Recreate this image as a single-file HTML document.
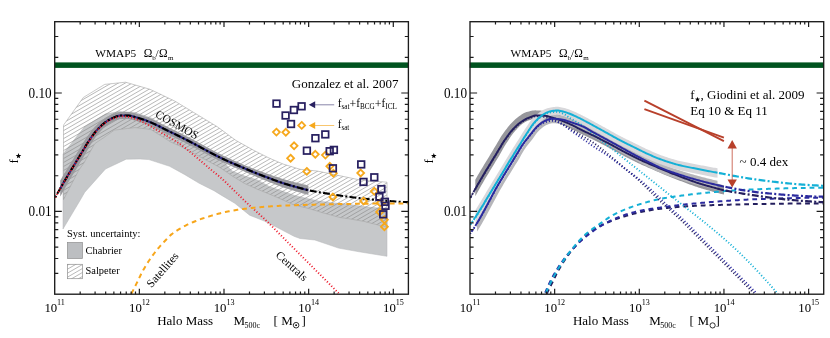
<!DOCTYPE html>
<html><head><meta charset="utf-8"><title>f_star vs halo mass</title>
<style>html,body{margin:0;padding:0;background:#fff;}body{width:830px;height:338px;overflow:hidden;font-family:"Liberation Serif",serif;}svg{will-change:transform;}svg text{font-family:"Liberation Serif",serif;fill:#000;}</style>
</head><body>
<svg width="830" height="338" viewBox="0 0 830 338" style="display:block;font-family:'Liberation Serif', serif">
<defs>
<clipPath id="clipL"><rect x="54.7" y="21.7" width="353.7" height="272.5"/></clipPath>
<clipPath id="clipR"><rect x="470" y="21.7" width="353.7" height="272.5"/></clipPath>
</defs>
<rect width="830" height="338" fill="#fff"/>
<g clip-path="url(#clipL)">
<path d="M63 154 L71.1 143.7 L84.2 127.1 L105.3 114 L119.4 111.5 L135 112.5 L151.4 118.1 L165.9 127.5 L190 140 L210 151.5 L225 163.5 L232.4 171.2 L244.8 176.1 L257.3 179.9 L269.7 186.7 L282.1 191.1 L294.5 195.4 L307 198.5 L319.6 201.2 L334.4 202.9 L349.2 204.4 L364 206.6 L378.8 208.1 L387 208.9 L387 256.3 L359.2 251.8 L338.5 248.1 L314.8 240 L300 238.5 L294 236.3 L279.2 228.5 L264.4 221.1 L249.6 215.2 L234.8 203.3 L220 194.4 L214 190.7 L199.2 183.3 L184.4 174.4 L169.6 166.3 L148.9 159.6 L140 159 L126.2 159.2 L105.5 169 L84.8 192.2 L80.3 200 L63 229 Z" fill="#c6c8ca" stroke="#b4b6b8" stroke-width="0.5"/>
<clipPath id="salp"><path d="M63.5 125.5 L64 124.4 L83.3 97.5 L104.7 84.4 L125.5 82.2 L150 89.3 L174.8 101.1 L199.7 116.1 L217.1 126.6 L236 140.5 L254 150.5 L269 158 L283 164 L300 169.3 L317 171 L343.6 176.5 L360 180 L387 182.2 L387 226.6 L381.7 225.9 L364 221.4 L349.2 218.8 L340 217.5 L323.6 213 L308.8 208.5 L294 205 L282 199.5 L269.7 194.2 L257.3 189.2 L244.8 183.6 L232.4 176.1 L220 167.5 L199.6 156.6 L180.8 146.5 L170.7 142 L151 129.6 L144.2 128.6 L135 127.6 L127.3 128.5 L114.4 130.1 L103.2 138 L94.7 143.7 L83.9 163 L78.9 170 L63.5 199.6 Z"/></clipPath>
<path d="M-166.01 203.4 L463.29 -159.92 M-164.28 206.39 L465.01 -156.93 M-162.56 209.38 L466.74 -153.94 M-160.83 212.37 L468.46 -150.96 M-159.11 215.36 L470.19 -147.97 M-157.38 218.34 L471.91 -144.98 M-155.66 221.33 L473.64 -141.99 M-153.93 224.32 L475.36 -139 M-152.21 227.31 L477.09 -136.02 M-150.48 230.29 L478.81 -133.03 M-148.76 233.28 L480.54 -130.04 M-147.03 236.27 L482.26 -127.05 M-145.31 239.26 L483.99 -124.07 M-143.58 242.25 L485.71 -121.08 M-141.86 245.23 L487.44 -118.09 M-140.13 248.22 L489.16 -115.1 M-138.41 251.21 L490.89 -112.11 M-136.68 254.2 L492.61 -109.13 M-134.96 257.18 L494.34 -106.14 M-133.23 260.17 L496.06 -103.15 M-131.51 263.16 L497.79 -100.16 M-129.78 266.15 L499.51 -97.18 M-128.06 269.14 L501.24 -94.19 M-126.33 272.12 L502.96 -91.2 M-124.61 275.11 L504.69 -88.21 M-122.88 278.1 L506.41 -85.22 M-121.16 281.09 L508.14 -82.24 M-119.43 284.07 L509.86 -79.25 M-117.71 287.06 L511.59 -76.26 M-115.98 290.05 L513.31 -73.27 M-114.26 293.04 L515.04 -70.29 M-112.53 296.03 L516.76 -67.3 M-110.81 299.01 L518.49 -64.31 M-109.08 302 L520.21 -61.32 M-107.36 304.99 L521.94 -58.33 M-105.63 307.98 L523.66 -55.35 M-103.91 310.96 L525.39 -52.36 M-102.18 313.95 L527.11 -49.37 M-100.46 316.94 L528.84 -46.38 M-98.73 319.93 L530.56 -43.4 M-97.01 322.92 L532.29 -40.41 M-95.28 325.9 L534.01 -37.42 M-93.56 328.89 L535.74 -34.43 M-91.83 331.88 L537.46 -31.44 M-90.11 334.87 L539.19 -28.46 M-88.38 337.85 L540.91 -25.47 M-86.66 340.84 L542.64 -22.48 M-84.93 343.83 L544.36 -19.49 M-83.21 346.82 L546.09 -16.51 M-81.48 349.81 L547.81 -13.52 M-79.76 352.79 L549.54 -10.53 M-78.03 355.78 L551.26 -7.54 M-76.31 358.77 L552.99 -4.55 M-74.58 361.76 L554.71 -1.57 M-72.86 364.74 L556.44 1.42 M-71.13 367.73 L558.16 4.41 M-69.41 370.72 L559.89 7.4 M-67.68 373.71 L561.61 10.38 M-65.96 376.7 L563.34 13.37 M-64.23 379.68 L565.06 16.36 M-62.51 382.67 L566.79 19.35 M-60.78 385.66 L568.51 22.34 M-59.06 388.65 L570.24 25.32 M-57.33 391.63 L571.96 28.31 M-55.61 394.62 L573.69 31.3 M-53.88 397.61 L575.41 34.29 M-52.16 400.6 L577.14 37.27 M-50.43 403.59 L578.86 40.26 M-48.71 406.57 L580.59 43.25 M-46.98 409.56 L582.31 46.24 M-45.26 412.55 L584.04 49.23 M-43.53 415.54 L585.76 52.21 M-41.81 418.52 L587.49 55.2 M-40.08 421.51 L589.21 58.19 M-38.36 424.5 L590.94 61.18 M-36.63 427.49 L592.66 64.16 M-34.91 430.48 L594.39 67.15 M-33.18 433.46 L596.11 70.14 M-31.46 436.45 L597.84 73.13 M-29.73 439.44 L599.56 76.12 M-28.01 442.43 L601.29 79.1 M-26.28 445.41 L603.01 82.09 M-24.56 448.4 L604.74 85.08 M-22.83 451.39 L606.46 88.07 M-21.11 454.38 L608.19 91.05 M-19.38 457.37 L609.91 94.04 M-17.66 460.35 L611.64 97.03 M-15.93 463.34 L613.36 100.02 M-14.21 466.33 L615.09 103.01 M-12.48 469.32 L616.81 105.99" clip-path="url(#salp)" stroke="#888" stroke-width="0.6" fill="none"/>
<path d="M63.5 125.5 L64 124.4 L83.3 97.5 L104.7 84.4 L125.5 82.2 L150 89.3 L174.8 101.1 L199.7 116.1 L217.1 126.6 L236 140.5 L254 150.5 L269 158 L283 164 L300 169.3 L317 171 L343.6 176.5 L360 180 L387 182.2 L387 226.6 L381.7 225.9 L364 221.4 L349.2 218.8 L340 217.5 L323.6 213 L308.8 208.5 L294 205 L282 199.5 L269.7 194.2 L257.3 189.2 L244.8 183.6 L232.4 176.1 L220 167.5 L199.6 156.6 L180.8 146.5 L170.7 142 L151 129.6 L144.2 128.6 L135 127.6 L127.3 128.5 L114.4 130.1 L103.2 138 L94.7 143.7 L83.9 163 L78.9 170 L63.5 199.6 Z" fill="none" stroke="#a6a6a6" stroke-width="0.6"/>
<path d="M60.2 180.52 L61.59 178.13 L62.97 175.78 L64.36 173.44 L65.75 171.13 L67.13 168.85 L68.52 166.6 L69.91 164.38 L71.29 162.16 L72.68 159.93 L74.07 157.68 L75.45 155.4 L76.84 153.12 L78.23 150.85 L79.61 148.58 L81 146.35 L82.39 144.07 L83.77 141.73 L85.16 139.47 L86.55 137.36 L87.93 135.44 L89.32 133.65 L90.71 131.85 L92.09 130.07 L93.48 128.4 L94.86 126.87 L96.25 125.45 L97.64 124.12 L99.02 122.82 L100.41 121.57 L101.8 120.42 L103.18 119.38 L104.57 118.44 L105.96 117.58 L107.34 116.73 L108.73 115.93 L110.12 115.22 L111.5 114.59 L112.89 114.06 L114.28 113.57 L115.66 113.04 L117.05 112.58 L118.44 112.24 L119.82 112.05 L121.21 112 L122.6 112.01 L123.98 112.02 L125.37 112.04 L126.76 112.07 L128.14 112.1 L129.53 112.17 L130.92 112.35 L132.3 112.63 L133.69 112.99 L135.08 113.4 L136.46 113.84 L137.85 114.24 L139.24 114.63 L140.62 115.05 L142.01 115.48 L143.4 115.94 L144.78 116.41 L146.17 116.9 L147.56 117.41 L148.94 117.94 L150.33 118.5 L151.72 119.08 L153.1 119.68 L154.49 120.3 L155.87 120.94 L157.26 121.57 L158.65 122.23 L160.03 122.92 L161.42 123.65 L162.81 124.38 L164.19 125.13 L165.58 125.86 L166.97 126.57 L168.35 127.27 L169.74 127.95 L171.13 128.62 L172.51 129.29 L173.9 129.95 L175.29 130.62 L176.67 131.28 L178.06 131.95 L179.45 132.63 L180.83 133.32 L182.22 134.02 L183.61 134.72 L184.99 135.43 L186.38 136.14 L187.77 136.86 L189.15 137.58 L190.54 138.3 L191.93 139.03 L193.31 139.76 L194.7 140.49 L196.09 141.22 L197.47 141.97 L198.86 142.72 L200.25 143.48 L201.63 144.25 L203.02 145.02 L204.41 145.79 L205.79 146.56 L207.18 147.32 L208.57 148.07 L209.95 148.81 L211.34 149.54 L212.73 150.27 L214.11 150.99 L215.5 151.72 L216.88 152.43 L218.27 153.14 L219.66 153.84 L221.04 154.54 L222.43 155.23 L223.82 155.9 L225.2 156.57 L226.59 157.22 L227.98 157.86 L229.36 158.49 L230.75 159.1 L232.14 159.72 L233.52 160.32 L234.91 160.92 L236.3 161.52 L237.68 162.12 L239.07 162.72 L240.46 163.32 L241.84 163.93 L243.23 164.53 L244.62 165.14 L246 165.71 L247.39 166.26 L248.78 166.81 L250.16 167.36 L251.55 167.91 L252.94 168.45 L254.32 168.98 L255.71 169.5 L257.1 170.02 L258.48 170.54 L259.87 171.04 L261.26 171.55 L262.64 172.05 L264.03 172.54 L265.42 173.03 L266.8 173.52 L268.19 174 L269.58 174.48 L270.96 174.95 L272.35 175.43 L273.74 175.91 L275.12 176.39 L276.51 176.86 L277.89 177.33 L279.28 177.79 L280.67 178.25 L282.05 178.69 L283.44 179.12 L284.83 179.54 L286.21 179.94 L287.6 180.33 L288.99 180.7 L290.37 181.07 L291.76 181.43 L293.15 181.78 L294.53 182.13 L295.92 182.47 L297.31 182.81 L298.69 183.15 L300.08 183.49 L301.47 183.83 L302.85 184.18 L304.24 184.53 L305.63 184.87 L307.01 185.19 L308.4 185.48 L308.4 194.92 L307.01 194.58 L305.63 194.22 L304.24 193.83 L302.85 193.43 L301.47 193.01 L300.08 192.59 L298.69 192.18 L297.31 191.76 L295.92 191.35 L294.53 190.94 L293.15 190.53 L291.76 190.11 L290.37 189.69 L288.99 189.26 L287.6 188.83 L286.21 188.38 L284.83 187.93 L283.44 187.47 L282.05 186.99 L280.67 186.49 L279.28 185.98 L277.89 185.46 L276.51 184.93 L275.12 184.4 L273.74 183.85 L272.35 183.3 L270.96 182.75 L269.58 182.2 L268.19 181.65 L266.8 181.1 L265.42 180.54 L264.03 179.99 L262.64 179.42 L261.26 178.86 L259.87 178.29 L258.48 177.71 L257.1 177.13 L255.71 176.55 L254.32 175.96 L252.94 175.36 L251.55 174.76 L250.16 174.15 L248.78 173.53 L247.39 172.91 L246 172.29 L244.62 171.67 L243.23 171.08 L241.84 170.49 L240.46 169.9 L239.07 169.31 L237.68 168.72 L236.3 168.14 L234.91 167.55 L233.52 166.97 L232.14 166.38 L230.75 165.8 L229.36 165.2 L227.98 164.6 L226.59 164 L225.2 163.38 L223.82 162.75 L222.43 162.11 L221.04 161.46 L219.66 160.8 L218.27 160.13 L216.88 159.45 L215.5 158.76 L214.11 158.06 L212.73 157.36 L211.34 156.66 L209.95 155.95 L208.57 155.24 L207.18 154.53 L205.79 153.8 L204.41 153.06 L203.02 152.31 L201.63 151.56 L200.25 150.81 L198.86 150.05 L197.47 149.3 L196.09 148.55 L194.7 147.81 L193.31 147.09 L191.93 146.37 L190.54 145.65 L189.15 144.93 L187.77 144.22 L186.38 143.51 L184.99 142.8 L183.61 142.1 L182.22 141.4 L180.83 140.71 L179.45 140.02 L178.06 139.33 L176.67 138.66 L175.29 138 L173.9 137.34 L172.51 136.69 L171.13 136.04 L169.74 135.39 L168.35 134.74 L166.97 134.08 L165.58 133.42 L164.19 132.74 L162.81 132.04 L161.42 131.31 L160.03 130.59 L158.65 129.86 L157.26 129.15 L155.87 128.48 L154.49 127.84 L153.1 127.21 L151.72 126.59 L150.33 125.98 L148.94 125.39 L147.56 124.82 L146.17 124.28 L144.78 123.76 L143.4 123.26 L142.01 122.78 L140.62 122.32 L139.24 121.88 L137.85 121.46 L136.46 121.08 L135.08 120.68 L133.69 120.24 L132.3 119.82 L130.92 119.45 L129.53 119.19 L128.14 119.09 L126.76 119.06 L125.37 119.03 L123.98 119.02 L122.6 119.01 L121.21 119 L119.82 119.12 L118.44 119.48 L117.05 119.99 L115.66 120.55 L114.28 121.11 L112.89 121.7 L111.5 122.44 L110.12 123.28 L108.73 124.19 L107.34 125.16 L105.96 126.18 L104.57 127.31 L103.18 128.6 L101.8 129.98 L100.41 131.44 L99.02 132.96 L97.64 134.57 L96.25 136.33 L94.86 138.27 L93.48 140.33 L92.09 142.45 L90.71 144.59 L89.32 146.8 L87.93 149.2 L86.55 151.73 L85.16 154.24 L83.77 156.67 L82.39 158.99 L81 161.28 L79.61 163.6 L78.23 165.9 L76.84 168.19 L75.45 170.46 L74.07 172.72 L72.68 174.99 L71.29 177.29 L69.91 179.62 L68.52 181.99 L67.13 184.4 L65.75 186.82 L64.36 189.25 L62.97 191.69 L61.59 194.14 L60.2 196.58 Z" fill="#9b9b9f"/>
<path d="M60.2 188.55 L61.59 186.14 L62.97 183.73 L64.36 181.35 L65.75 178.97 L67.13 176.62 L68.52 174.3 L69.91 172 L71.29 169.72 L72.68 167.46 L74.07 165.2 L75.45 162.93 L76.84 160.66 L78.23 158.37 L79.61 156.09 L81 153.81 L82.39 151.53 L83.77 149.2 L85.16 146.86 L86.55 144.55 L87.93 142.32 L89.32 140.23 L90.71 138.22 L92.09 136.26 L93.48 134.37 L94.86 132.57 L96.25 130.89 L97.64 129.34 L99.02 127.89 L100.41 126.5 L101.8 125.2 L103.18 123.99 L104.57 122.88 L105.96 121.88 L107.34 120.94 L108.73 120.06 L110.12 119.25 L111.5 118.52 L112.89 117.88 L114.28 117.34 L115.66 116.8 L117.05 116.29 L118.44 115.86 L119.82 115.58 L121.21 115.5 L122.6 115.51 L123.98 115.52 L125.37 115.54 L126.76 115.56 L128.14 115.59 L129.53 115.68 L130.92 115.9 L132.3 116.22 L133.69 116.62 L135.08 117.04 L136.46 117.46 L137.85 117.85 L139.24 118.25 L140.62 118.68 L142.01 119.13 L143.4 119.6 L144.78 120.09 L146.17 120.59 L147.56 121.11 L148.94 121.66 L150.33 122.24 L151.72 122.83 L153.1 123.45 L154.49 124.07 L155.87 124.71 L157.26 125.36 L158.65 126.04 L160.03 126.75 L161.42 127.48 L162.81 128.21 L164.19 128.93 L165.58 129.64 L166.97 130.33 L168.35 131 L169.74 131.67 L171.13 132.33 L172.51 132.99 L173.9 133.65 L175.29 134.31 L176.67 134.97 L178.06 135.64 L179.45 136.32 L180.83 137.01 L182.22 137.71 L183.61 138.41 L184.99 139.12 L186.38 139.82 L187.77 140.54 L189.15 141.25 L190.54 141.97 L191.93 142.7 L193.31 143.42 L194.7 144.15 L196.09 144.89 L197.47 145.63 L198.86 146.39 L200.25 147.15 L201.63 147.91 L203.02 148.67 L204.41 149.43 L205.79 150.18 L207.18 150.92 L208.57 151.66 L209.95 152.38 L211.34 153.1 L212.73 153.82 L214.11 154.53 L215.5 155.24 L216.88 155.94 L218.27 156.63 L219.66 157.32 L221.04 158 L222.43 158.67 L223.82 159.33 L225.2 159.97 L226.59 160.61 L227.98 161.23 L229.36 161.84 L230.75 162.45 L232.14 163.05 L233.52 163.65 L234.91 164.24 L236.3 164.83 L237.68 165.42 L239.07 166.02 L240.46 166.61 L241.84 167.21 L243.23 167.81 L244.62 168.4 L246 169 L247.39 169.59 L248.78 170.17 L250.16 170.76 L251.55 171.33 L252.94 171.91 L254.32 172.47 L255.71 173.03 L257.1 173.58 L258.48 174.12 L259.87 174.67 L261.26 175.2 L262.64 175.73 L264.03 176.26 L265.42 176.79 L266.8 177.31 L268.19 177.83 L269.58 178.34 L270.96 178.85 L272.35 179.37 L273.74 179.88 L275.12 180.39 L276.51 180.9 L277.89 181.4 L279.28 181.89 L280.67 182.37 L282.05 182.84 L283.44 183.29 L284.83 183.73 L286.21 184.16 L287.6 184.58 L288.99 184.98 L290.37 185.38 L291.76 185.77 L293.15 186.16 L294.53 186.54 L295.92 186.91 L297.31 187.29 L298.69 187.66 L300.08 188.04 L301.47 188.42 L302.85 188.81 L304.24 189.18 L305.63 189.54 L307.01 189.89 L308.4 190.2" fill="none" stroke="#2f2a86" stroke-width="2.1"/>
<path d="M55 197.76 L55.59 196.7 L56.18 195.65 L56.77 194.6 L57.36 193.55 L57.95 192.5 L58.54 191.46 L59.13 190.42 L59.72 189.39 L60.31 188.36 L60.9 187.33 L61.49 186.3 L62.08 185.28 L62.67 184.26 L63.26 183.24 L63.85 182.22 L64.44 181.21 L65.03 180.2 L65.62 179.19 L66.21 178.19 L66.8 177.19 L67.39 176.19 L67.98 175.2 L68.57 174.21 L69.16 173.23 L69.75 172.26 L70.34 171.29 L70.93 170.32 L71.52 169.35 L72.11 168.39 L72.7 167.43 L73.29 166.47 L73.88 165.5 L74.47 164.54 L75.06 163.58 L75.65 162.61 L76.24 161.64 L76.83 160.67 L77.42 159.7 L78.01 158.73 L78.6 157.76 L79.19 156.79 L79.78 155.82 L80.37 154.85 L80.96 153.88 L81.55 152.91 L82.14 151.94 L82.73 150.96 L83.32 149.97 L83.91 148.97 L84.5 147.97 L85.09 146.98 L85.68 145.99 L86.27 145 L86.86 144.04 L87.45 143.08 L88.04 142.15 L88.63 141.25 L89.22 140.37 L89.81 139.51 L90.4 138.66 L90.99 137.81 L91.58 136.98 L92.17 136.15 L92.76 135.34 L93.35 134.54 L93.94 133.76 L94.53 133 L95.12 132.25 L95.71 131.53 L96.3 130.83 L96.89 130.16 L97.48 129.52 L98.07 128.89 L98.66 128.27 L99.25 127.66 L99.84 127.07 L100.43 126.49 L101.02 125.92 L101.61 125.37 L102.2 124.84 L102.79 124.32 L103.38 123.82 L103.97 123.35 L104.56 122.89 L105.15 122.45 L105.74 122.03 L106.33 121.63 L106.92 121.23 L107.51 120.84 L108.1 120.46 L108.69 120.09 L109.28 119.73 L109.87 119.39 L110.46 119.06 L111.05 118.75 L111.64 118.45 L112.23 118.17 L112.82 117.91 L113.41 117.67 L114 117.45 L114.59 117.22 L115.18 116.99 L115.77 116.76 L116.36 116.53 L116.95 116.32 L117.54 116.12 L118.13 115.95 L118.72 115.79 L119.31 115.67 L119.9 115.57 L120.49 115.52 L121.08 115.5 L121.67 115.5 L122.26 115.5 L122.85 115.51 L123.44 115.51 L124.03 115.52 L124.62 115.53 L125.21 115.53 L125.8 115.54 L126.39 115.56 L126.98 115.57 L127.57 115.58 L128.16 115.59 L128.75 115.61 L129.34 115.66 L129.93 115.73 L130.52 115.83 L131.11 115.94 L131.7 116.07 L132.29 116.22 L132.88 116.38 L133.47 116.55 L134.06 116.73 L134.65 116.91 L135.24 117.09 L135.83 117.27 L136.42 117.45 L137.01 117.62 L137.6 117.78 L138.19 117.95 L138.78 118.12 L139.37 118.29 L139.96 118.47 L140.55 118.66 L141.14 118.85 L141.73 119.04 L142.32 119.23 L142.91 119.43 L143.5 119.63 L144.09 119.84 L144.68 120.05 L145.27 120.26 L145.86 120.47 L146.45 120.69 L147.04 120.91 L147.63 121.14 L148.22 121.37 L148.81 121.61 L149.4 121.85 L149.99 122.09 L150.58 122.34 L151.17 122.6 L151.76 122.85 L152.35 123.11 L152.94 123.37 L153.53 123.64 L154.12 123.9 L154.71 124.17 L155.3 124.44 L155.89 124.72 L156.48 124.99 L157.07 125.27 L157.66 125.55 L158.25 125.84 L158.84 126.14 L159.43 126.44 L160.02 126.75 L160.61 127.05 L161.2 127.36 L161.79 127.67 L162.38 127.98 L162.97 128.29 L163.56 128.6 L164.15 128.91 L164.74 129.21 L165.33 129.51 L165.92 129.81 L166.51 130.1 L167.1 130.39 L167.69 130.68 L168.28 130.96 L168.87 131.25 L169.46 131.53 L170.05 131.81 L170.64 132.1 L171.23 132.38 L171.82 132.66 L172.41 132.94 L173 133.22 L173.59 133.5 L174.18 133.78 L174.77 134.06 L175.36 134.34 L175.95 134.62 L176.54 134.9 L177.13 135.19 L177.72 135.47 L178.31 135.76 L178.9 136.05 L179.49 136.34 L180.08 136.64 L180.67 136.93 L181.26 137.23 L181.85 137.52 L182.44 137.82 L183.03 138.12 L183.62 138.42 L184.21 138.72 L184.8 139.02 L185.39 139.32 L185.98 139.62 L186.57 139.92 L187.16 140.22 L187.75 140.53 L188.34 140.83 L188.93 141.14 L189.52 141.44 L190.11 141.75 L190.7 142.06 L191.29 142.36 L191.88 142.67 L192.47 142.98 L193.06 143.29 L193.65 143.6 L194.24 143.91 L194.83 144.22 L195.42 144.53 L196.01 144.85 L196.6 145.16 L197.19 145.48 L197.78 145.8 L198.37 146.12 L198.96 146.44 L199.55 146.76 L200.14 147.09 L200.73 147.41 L201.32 147.73 L201.91 148.06 L202.5 148.38 L203.09 148.7 L203.68 149.03 L204.27 149.35 L204.86 149.67 L205.45 149.99 L206.04 150.31 L206.63 150.63 L207.22 150.94 L207.81 151.26 L208.4 151.57 L208.99 151.88 L209.58 152.19 L210.17 152.49 L210.76 152.8 L211.35 153.1 L211.94 153.41 L212.53 153.71 L213.12 154.02 L213.71 154.32 L214.3 154.62 L214.89 154.93 L215.48 155.23 L216.07 155.53 L216.66 155.82 L217.25 156.12 L217.84 156.42 L218.43 156.71 L219.02 157 L219.61 157.3 L220.2 157.59 L220.79 157.87 L221.38 158.16 L221.97 158.45 L222.56 158.73 L223.15 159.01 L223.74 159.29 L224.33 159.57 L224.92 159.84 L225.51 160.11 L226.1 160.38 L226.69 160.65 L227.28 160.92 L227.87 161.18 L228.46 161.44 L229.05 161.7 L229.64 161.96 L230.23 162.22 L230.82 162.48 L231.41 162.73 L231.99 162.99 L232.58 163.24 L233.17 163.5 L233.76 163.75 L234.35 164 L234.94 164.25 L235.53 164.51 L236.12 164.76 L236.71 165.01 L237.3 165.26 L237.89 165.51 L238.48 165.76 L239.07 166.02 L239.66 166.27 L240.25 166.52 L240.84 166.78 L241.43 167.03 L242.02 167.29 L242.61 167.54 L243.2 167.79 L243.79 168.05 L244.38 168.3 L244.97 168.56 L245.56 168.81 L246.15 169.06 L246.74 169.31 L247.33 169.56 L247.92 169.81 L248.51 170.06 L249.1 170.31 L249.69 170.56 L250.28 170.81 L250.87 171.05 L251.46 171.3 L252.05 171.54 L252.64 171.79 L253.23 172.03 L253.82 172.27 L254.41 172.51 L255 172.74 L255.59 172.98 L256.18 173.21 L256.77 173.45 L257.36 173.68 L257.95 173.92 L258.54 174.15 L259.13 174.38 L259.72 174.61 L260.31 174.84 L260.9 175.07 L261.49 175.29 L262.08 175.52 L262.67 175.75 L263.26 175.97 L263.85 176.2 L264.44 176.42 L265.03 176.64 L265.62 176.87 L266.21 177.09 L266.8 177.31 L267.39 177.53 L267.98 177.75 L268.57 177.97 L269.16 178.19 L269.75 178.4 L270.34 178.62 L270.93 178.84 L271.52 179.06 L272.11 179.28 L272.7 179.5 L273.29 179.72 L273.88 179.94 L274.47 180.15 L275.06 180.37 L275.65 180.59 L276.24 180.8 L276.83 181.02 L277.42 181.23 L278.01 181.44 L278.6 181.65 L279.19 181.86 L279.78 182.06 L280.37 182.27 L280.96 182.47 L281.55 182.67 L282.14 182.87 L282.73 183.06 L283.32 183.26 L283.91 183.45 L284.5 183.63 L285.09 183.82 L285.68 184 L286.27 184.18 L286.86 184.36 L287.45 184.53 L288.04 184.71 L288.63 184.88 L289.22 185.05 L289.81 185.22 L290.4 185.39 L290.99 185.56 L291.58 185.72 L292.17 185.89 L292.76 186.05 L293.35 186.21 L293.94 186.37 L294.53 186.54 L295.12 186.7 L295.71 186.86 L296.3 187.02 L296.89 187.18 L297.48 187.34 L298.07 187.5 L298.66 187.65 L299.25 187.81 L299.84 187.98 L300.43 188.14 L301.02 188.3 L301.61 188.46 L302.2 188.63 L302.79 188.79 L303.38 188.95 L303.97 189.11 L304.56 189.27 L305.15 189.42 L305.74 189.57 L306.33 189.72 L306.92 189.86 L307.51 190 L308.1 190.14 L308.69 190.26 L309.28 190.39 L309.87 190.51 L310.46 190.63 L311.05 190.75 L311.64 190.87 L312.23 190.98 L312.82 191.1 L313.41 191.21 L314 191.32 L314.59 191.43 L315.18 191.53 L315.77 191.64 L316.36 191.74 L316.95 191.85 L317.54 191.95 L318.13 192.05 L318.72 192.15 L319.31 192.25 L319.9 192.35 L320.49 192.45 L321.08 192.54 L321.67 192.64 L322.26 192.74 L322.85 192.83 L323.44 192.93 L324.03 193.03 L324.62 193.12 L325.21 193.22 L325.8 193.31 L326.39 193.41 L326.98 193.5 L327.57 193.6 L328.16 193.7 L328.75 193.79 L329.34 193.89 L329.93 193.99 L330.52 194.08 L331.11 194.18 L331.7 194.28 L332.29 194.37 L332.88 194.47 L333.47 194.56 L334.06 194.66 L334.65 194.75 L335.24 194.84 L335.83 194.94 L336.42 195.03 L337.01 195.12 L337.6 195.21 L338.19 195.3 L338.78 195.39 L339.37 195.48 L339.96 195.57 L340.55 195.66 L341.14 195.75 L341.73 195.83 L342.32 195.92 L342.91 196 L343.5 196.09 L344.09 196.17 L344.68 196.25 L345.27 196.33 L345.86 196.41 L346.45 196.49 L347.04 196.57 L347.63 196.65 L348.22 196.73 L348.81 196.81 L349.4 196.89 L349.99 196.97 L350.58 197.04 L351.17 197.12 L351.76 197.19 L352.35 197.27 L352.94 197.34 L353.53 197.42 L354.12 197.49 L354.71 197.57 L355.3 197.64 L355.89 197.71 L356.48 197.78 L357.07 197.85 L357.66 197.92 L358.25 197.99 L358.84 198.06 L359.43 198.13 L360.02 198.2 L360.61 198.27 L361.2 198.34 L361.79 198.41 L362.38 198.48 L362.97 198.55 L363.56 198.61 L364.15 198.68 L364.74 198.75 L365.33 198.82 L365.92 198.89 L366.51 198.95 L367.1 199.02 L367.69 199.09 L368.28 199.15 L368.87 199.22 L369.46 199.28 L370.05 199.35 L370.64 199.41 L371.23 199.47 L371.82 199.54 L372.41 199.6 L373 199.66 L373.59 199.72 L374.18 199.78 L374.77 199.83 L375.36 199.89 L375.95 199.95 L376.54 200 L377.13 200.05 L377.72 200.11 L378.31 200.16 L378.9 200.21 L379.49 200.26 L380.08 200.31 L380.67 200.36 L381.26 200.4 L381.85 200.45 L382.44 200.5 L383.03 200.55 L383.62 200.6 L384.21 200.64 L384.8 200.69 L385.39 200.74 L385.98 200.78 L386.57 200.83 L387.16 200.88 L387.75 200.92 L388.34 200.97 L388.93 201.01 L389.52 201.05 L390.11 201.1 L390.7 201.14 L391.29 201.19 L391.88 201.23 L392.47 201.27 L393.06 201.31 L393.65 201.35 L394.24 201.39 L394.83 201.43 L395.42 201.47 L396.01 201.51 L396.6 201.55 L397.19 201.59 L397.78 201.63 L398.37 201.66 L398.96 201.7 L399.55 201.74 L400.14 201.77 L400.73 201.81 L401.32 201.84 L401.91 201.87 L402.5 201.91 L403.09 201.94 L403.68 201.97 L404.27 202 L404.86 202.03 L405.45 202.06 L406.04 202.09 L406.63 202.12 L407.22 202.15 L407.81 202.17 L408.4 202.2" fill="none" stroke="#000" stroke-width="2.1" stroke-dasharray="6.8 2.3 2 2.3" stroke-dashoffset="8.73"/>
<path d="M55.2 197.6 L56.4 195.45 L57.6 193.32 L58.8 191.2 L60 189.1 L61.2 187 L62.41 184.92 L63.61 182.84 L64.81 180.78 L66.01 178.73 L67.21 176.7 L68.41 174.68 L69.61 172.69 L70.81 170.71 L72.01 168.75 L73.21 166.79 L74.41 164.83 L75.61 162.87 L76.82 160.89 L78.02 158.92 L79.22 156.94 L80.42 154.96 L81.62 153 L82.82 151.02 L84.02 149.01 L85.22 146.99 L86.42 145.01 L87.62 143.09 L88.82 141.25 L90.02 139.51 L91.23 137.8 L92.43 136.14 L93.63 134.53 L94.83 132.99 L96.03 131.53 L97.23 130.18 L98.43 128.92 L99.63 127.7 L100.83 126.53 L102.03 125.43 L103.23 124.4 L104.43 123.46 L105.64 122.61 L106.84 121.81 L108.04 121.06 L109.24 120.35 L110.44 119.7 L111.64 119.11 L112.84 118.59 L114.04 118.14 L115.24 117.69 L116.44 117.25 L117.64 116.86 L118.84 116.55 L120.05 116.35 L121.25 116.3 L122.45 116.33 L123.65 116.4 L124.85 116.5 L126.05 116.62 L127.25 116.76 L128.45 116.91 L129.65 117.11 L130.85 117.38 L132.05 117.72 L133.26 118.11 L134.46 118.54 L135.66 118.98 L136.86 119.43 L138.06 119.89 L139.26 120.4 L140.46 120.95 L141.66 121.54 L142.86 122.15 L144.06 122.78 L145.26 123.41 L146.46 124.04 L147.67 124.68 L148.87 125.35 L150.07 126.03 L151.27 126.72 L152.47 127.43 L153.67 128.13 L154.87 128.84 L156.07 129.55 L157.27 130.25 L158.47 130.96 L159.67 131.67 L160.87 132.39 L162.08 133.11 L163.28 133.82 L164.48 134.55 L165.68 135.27 L166.88 135.98 L168.08 136.69 L169.28 137.39 L170.48 138.08 L171.68 138.78 L172.88 139.49 L174.08 140.21 L175.28 140.94 L176.49 141.7 L177.69 142.49 L178.89 143.3 L180.09 144.15 L181.29 145.03 L182.49 145.93 L183.69 146.85 L184.89 147.79 L186.09 148.75 L187.29 149.72 L188.49 150.7 L189.69 151.68 L190.9 152.68 L192.1 153.67 L193.3 154.66 L194.5 155.65 L195.7 156.64 L196.9 157.64 L198.1 158.65 L199.3 159.67 L200.5 160.7 L201.7 161.73 L202.9 162.76 L204.11 163.8 L205.31 164.83 L206.51 165.87 L207.71 166.89 L208.91 167.92 L210.11 168.93 L211.31 169.93 L212.51 170.91 L213.71 171.89 L214.91 172.87 L216.11 173.84 L217.31 174.83 L218.52 175.82 L219.72 176.83 L220.92 177.85 L222.12 178.9 L223.32 179.98 L224.52 181.09 L225.72 182.24 L226.92 183.4 L228.12 184.58 L229.32 185.77 L230.52 186.96 L231.72 188.15 L232.93 189.32 L234.13 190.48 L235.33 191.66 L236.53 192.83 L237.73 194.01 L238.93 195.19 L240.13 196.37 L241.33 197.55 L242.53 198.72 L243.73 199.89 L244.93 201.06 L246.13 202.21 L247.34 203.36 L248.54 204.5 L249.74 205.63 L250.94 206.74 L252.14 207.84 L253.34 208.92 L254.54 209.99 L255.74 211.06 L256.94 212.13 L258.14 213.19 L259.34 214.26 L260.54 215.34 L261.75 216.43 L262.95 217.54 L264.15 218.66 L265.35 219.8 L266.55 220.96 L267.75 222.13 L268.95 223.31 L270.15 224.49 L271.35 225.69 L272.55 226.9 L273.75 228.11 L274.96 229.32 L276.16 230.54 L277.36 231.76 L278.56 232.98 L279.76 234.21 L280.96 235.42 L282.16 236.64 L283.36 237.85 L284.56 239.06 L285.76 240.26 L286.96 241.46 L288.16 242.66 L289.37 243.86 L290.57 245.06 L291.77 246.26 L292.97 247.47 L294.17 248.67 L295.37 249.87 L296.57 251.07 L297.77 252.27 L298.97 253.47 L300.17 254.67 L301.37 255.87 L302.57 257.07 L303.78 258.27 L304.98 259.47 L306.18 260.68 L307.38 261.88 L308.58 263.08 L309.78 264.29 L310.98 265.49 L312.18 266.69 L313.38 267.9 L314.58 269.1 L315.78 270.3 L316.98 271.51 L318.19 272.71 L319.39 273.91 L320.59 275.12 L321.79 276.32 L322.99 277.53 L324.19 278.73 L325.39 279.94 L326.59 281.14 L327.79 282.35 L328.99 283.55 L330.19 284.76 L331.39 285.96 L332.6 287.17 L333.8 288.37 L335 289.58 L336.2 290.79 L337.4 291.99 L338.6 293.2" fill="none" stroke="#ed1c2e" stroke-width="1.9" stroke-dasharray="1.05 2.05"/>
<path d="M131.4 293.7 L132.6 291.33 L133.81 288.95 L135.01 286.56 L136.22 284.16 L137.42 281.72 L138.63 279.21 L139.83 276.71 L141.03 274.26 L142.24 271.93 L143.44 269.76 L144.65 267.67 L145.85 265.65 L147.06 263.7 L148.26 261.82 L149.47 260 L150.67 258.23 L151.87 256.52 L153.08 254.87 L154.28 253.27 L155.49 251.71 L156.69 250.2 L157.9 248.73 L159.1 247.3 L160.3 245.91 L161.51 244.57 L162.71 243.27 L163.92 242 L165.12 240.74 L166.33 239.48 L167.53 238.19 L168.73 236.9 L169.94 235.68 L171.14 234.63 L172.35 233.68 L173.55 232.79 L174.76 231.95 L175.96 231.16 L177.17 230.39 L178.37 229.63 L179.57 228.89 L180.78 228.17 L181.98 227.48 L183.19 226.81 L184.39 226.17 L185.6 225.55 L186.8 224.96 L188 224.39 L189.21 223.84 L190.41 223.31 L191.62 222.78 L192.82 222.27 L194.03 221.76 L195.23 221.26 L196.43 220.76 L197.64 220.27 L198.84 219.79 L200.05 219.33 L201.25 218.89 L202.46 218.48 L203.66 218.08 L204.87 217.7 L206.07 217.34 L207.27 216.98 L208.48 216.62 L209.68 216.27 L210.89 215.9 L212.09 215.54 L213.3 215.17 L214.5 214.81 L215.7 214.46 L216.91 214.12 L218.11 213.8 L219.32 213.49 L220.52 213.18 L221.73 212.88 L222.93 212.6 L224.13 212.32 L225.34 212.05 L226.54 211.79 L227.75 211.55 L228.95 211.31 L230.16 211.08 L231.36 210.86 L232.57 210.64 L233.77 210.44 L234.97 210.24 L236.18 210.04 L237.38 209.85 L238.59 209.66 L239.79 209.48 L241 209.3 L242.2 209.13 L243.4 208.97 L244.61 208.81 L245.81 208.66 L247.02 208.51 L248.22 208.37 L249.43 208.24 L250.63 208.11 L251.83 207.98 L253.04 207.86 L254.24 207.74 L255.45 207.62 L256.65 207.5 L257.86 207.39 L259.06 207.28 L260.27 207.17 L261.47 207.06 L262.67 206.95 L263.88 206.85 L265.08 206.75 L266.29 206.66 L267.49 206.57 L268.7 206.49 L269.9 206.41 L271.1 206.33 L272.31 206.26 L273.51 206.18 L274.72 206.11 L275.92 206.04 L277.13 205.98 L278.33 205.91 L279.53 205.85 L280.74 205.79 L281.94 205.73 L283.15 205.67 L284.35 205.61 L285.56 205.56 L286.76 205.5 L287.97 205.45 L289.17 205.4 L290.37 205.35 L291.58 205.3 L292.78 205.26 L293.99 205.21 L295.19 205.17 L296.4 205.13 L297.6 205.09 L298.8 205.05 L300.01 205.02 L301.21 204.98 L302.42 204.94 L303.62 204.91 L304.83 204.88 L306.03 204.84 L307.23 204.81 L308.44 204.78 L309.64 204.75 L310.85 204.72 L312.05 204.69 L313.26 204.66 L314.46 204.63 L315.67 204.6 L316.87 204.57 L318.07 204.55 L319.28 204.52 L320.48 204.49 L321.69 204.46 L322.89 204.43 L324.1 204.4 L325.3 204.37 L326.5 204.35 L327.71 204.32 L328.91 204.29 L330.12 204.26 L331.32 204.23 L332.53 204.21 L333.73 204.18 L334.93 204.15 L336.14 204.13 L337.34 204.1 L338.55 204.08 L339.75 204.05 L340.96 204.03 L342.16 204.01 L343.37 203.99 L344.57 203.97 L345.77 203.95 L346.98 203.93 L348.18 203.91 L349.39 203.9 L350.59 203.88 L351.8 203.87 L353 203.85 L354.2 203.84 L355.41 203.82 L356.61 203.81 L357.82 203.79 L359.02 203.78 L360.23 203.76 L361.43 203.75 L362.63 203.73 L363.84 203.72 L365.04 203.71 L366.25 203.69 L367.45 203.68 L368.66 203.66 L369.86 203.65 L371.07 203.64 L372.27 203.63 L373.47 203.61 L374.68 203.6 L375.88 203.59 L377.09 203.58 L378.29 203.56 L379.5 203.55 L380.7 203.54 L381.9 203.53 L383.11 203.52 L384.31 203.51 L385.52 203.5 L386.72 203.49 L387.93 203.48 L389.13 203.47 L390.33 203.47 L391.54 203.46 L392.74 203.45 L393.95 203.44 L395.15 203.44 L396.36 203.43 L397.56 203.43 L398.77 203.42 L399.97 203.42 L401.17 203.41 L402.38 203.41 L403.58 203.41 L404.79 203.4 L405.99 203.4 L407.2 203.4 L408.4 203.4" fill="none" stroke="#f7a61b" stroke-width="2" stroke-dasharray="4.8 3.9"/>
</g>
<rect x="54.4" y="62.4" width="354.3" height="5.5" fill="#00531f"/>
<rect x="469.7" y="62.4" width="354.3" height="5.5" fill="#00531f"/>
<path d="M301.7 121.95 L305.15 125.4 L301.7 128.85 L298.25 125.4Z" fill="none" stroke="#f6a81c" stroke-width="1.8"/>
<path d="M276.4 128.65 L279.85 132.1 L276.4 135.55 L272.95 132.1Z" fill="none" stroke="#f6a81c" stroke-width="1.8"/>
<path d="M285.8 128.85 L289.25 132.3 L285.8 135.75 L282.35 132.3Z" fill="none" stroke="#f6a81c" stroke-width="1.8"/>
<path d="M294.1 142.35 L297.55 145.8 L294.1 149.25 L290.65 145.8Z" fill="none" stroke="#f6a81c" stroke-width="1.8"/>
<path d="M290.6 154.75 L294.05 158.2 L290.6 161.65 L287.15 158.2Z" fill="none" stroke="#f6a81c" stroke-width="1.8"/>
<path d="M315.3 150.85 L318.75 154.3 L315.3 157.75 L311.85 154.3Z" fill="none" stroke="#f6a81c" stroke-width="1.8"/>
<path d="M325.4 151.65 L328.85 155.1 L325.4 158.55 L321.95 155.1Z" fill="none" stroke="#f6a81c" stroke-width="1.8"/>
<path d="M329.8 162.85 L333.25 166.3 L329.8 169.75 L326.35 166.3Z" fill="none" stroke="#f6a81c" stroke-width="1.8"/>
<path d="M333.4 169.85 L336.85 173.3 L333.4 176.75 L329.95 173.3Z" fill="none" stroke="#f6a81c" stroke-width="1.8"/>
<path d="M306.8 167.95 L310.25 171.4 L306.8 174.85 L303.35 171.4Z" fill="none" stroke="#f6a81c" stroke-width="1.8"/>
<path d="M360.7 169.55 L364.15 173 L360.7 176.45 L357.25 173Z" fill="none" stroke="#f6a81c" stroke-width="1.8"/>
<path d="M374.3 187.85 L377.75 191.3 L374.3 194.75 L370.85 191.3Z" fill="none" stroke="#f6a81c" stroke-width="1.8"/>
<path d="M332.9 193.55 L336.35 197 L332.9 200.45 L329.45 197Z" fill="none" stroke="#f6a81c" stroke-width="1.8"/>
<path d="M363.6 197.55 L367.05 201 L363.6 204.45 L360.15 201Z" fill="none" stroke="#f6a81c" stroke-width="1.8"/>
<path d="M380.3 199.55 L383.75 203 L380.3 206.45 L376.85 203Z" fill="none" stroke="#f6a81c" stroke-width="1.8"/>
<path d="M379.6 208.45 L383.05 211.9 L379.6 215.35 L376.15 211.9Z" fill="none" stroke="#f6a81c" stroke-width="1.8"/>
<path d="M384.4 216.35 L387.85 219.8 L384.4 223.25 L380.95 219.8Z" fill="none" stroke="#f6a81c" stroke-width="1.8"/>
<path d="M384.4 223.25 L387.85 226.7 L384.4 230.15 L380.95 226.7Z" fill="none" stroke="#f6a81c" stroke-width="1.8"/>
<rect x="273.2" y="100.3" width="6.6" height="6.6" fill="none" stroke="#282060" stroke-width="1.75"/>
<rect x="298.3" y="103" width="6.6" height="6.6" fill="none" stroke="#282060" stroke-width="1.75"/>
<rect x="290.6" y="106.7" width="6.6" height="6.6" fill="none" stroke="#282060" stroke-width="1.75"/>
<rect x="282.3" y="112.2" width="6.6" height="6.6" fill="none" stroke="#282060" stroke-width="1.75"/>
<rect x="287.7" y="120.7" width="6.6" height="6.6" fill="none" stroke="#282060" stroke-width="1.75"/>
<rect x="322" y="131.1" width="6.6" height="6.6" fill="none" stroke="#282060" stroke-width="1.75"/>
<rect x="312.1" y="134.9" width="6.6" height="6.6" fill="none" stroke="#282060" stroke-width="1.75"/>
<rect x="303.6" y="147.4" width="6.6" height="6.6" fill="none" stroke="#282060" stroke-width="1.75"/>
<rect x="326.4" y="147.9" width="6.6" height="6.6" fill="none" stroke="#282060" stroke-width="1.75"/>
<rect x="330.6" y="146.6" width="6.6" height="6.6" fill="none" stroke="#282060" stroke-width="1.75"/>
<rect x="329.6" y="165" width="6.6" height="6.6" fill="none" stroke="#282060" stroke-width="1.75"/>
<rect x="357.9" y="161.1" width="6.6" height="6.6" fill="none" stroke="#282060" stroke-width="1.75"/>
<rect x="371" y="174" width="6.6" height="6.6" fill="none" stroke="#282060" stroke-width="1.75"/>
<rect x="360.2" y="178.6" width="6.6" height="6.6" fill="none" stroke="#282060" stroke-width="1.75"/>
<rect x="378.1" y="185.8" width="6.6" height="6.6" fill="none" stroke="#282060" stroke-width="1.75"/>
<rect x="376.1" y="193.6" width="6.6" height="6.6" fill="none" stroke="#282060" stroke-width="1.75"/>
<rect x="381.6" y="198.5" width="6.6" height="6.6" fill="none" stroke="#282060" stroke-width="1.75"/>
<rect x="382.2" y="202.5" width="6.6" height="6.6" fill="none" stroke="#282060" stroke-width="1.75"/>
<rect x="379.9" y="211" width="6.6" height="6.6" fill="none" stroke="#282060" stroke-width="1.75"/>
<line x1="314" y1="104.8" x2="334.2" y2="104.8" stroke="#6b6794" stroke-width="0.8"/>
<path d="M308.8 104.8 L315.2 101.3 L315.2 108.3 Z" fill="#282060"/>
<line x1="314" y1="125.5" x2="334.2" y2="125.5" stroke="#f6b84a" stroke-width="0.8"/>
<path d="M308.8 125.5 L315.2 122 L315.2 129 Z" fill="#f6a81c"/>
<g clip-path="url(#clipR)">
<path d="M475.3 179.66 L476.55 177.47 L477.8 175.32 L479.05 173.18 L480.3 171.06 L481.55 168.96 L482.8 166.88 L484.05 164.83 L485.3 162.81 L486.55 160.78 L487.8 158.74 L489.05 156.69 L490.3 154.61 L491.55 152.53 L492.8 150.44 L494.05 148.37 L495.3 146.3 L496.55 144.23 L497.8 142.08 L499.05 139.89 L500.29 137.77 L501.54 135.78 L502.79 133.95 L504.04 132.27 L505.29 130.61 L506.54 128.88 L507.79 127.22 L509.04 125.67 L510.29 124.23 L511.54 122.93 L512.79 121.71 L514.04 120.5 L515.29 119.32 L516.54 118.21 L517.79 117.2 L519.04 116.27 L520.29 115.43 L521.54 114.62 L522.79 113.81 L524.04 113.05 L525.29 112.54 L526.54 112.11 L527.79 111.75 L529.04 111.44 L530.29 111.09 L531.54 110.76 L532.79 110.52 L534.04 110.38 L535.29 110.36 L536.54 110.45 L537.79 110.52 L539.04 110.55 L540.29 110.59 L541.54 110.63 L542.79 110.68 L544.04 110.73 L545.29 110.84 L546.54 111.04 L547.79 111.32 L549.04 111.66 L550.28 112.06 L551.53 112.47 L552.78 112.86 L554.03 113.23 L555.28 113.61 L556.53 114.01 L557.78 114.42 L559.03 114.86 L560.28 115.3 L561.53 115.74 L562.78 116.19 L564.03 116.66 L565.28 117.16 L566.53 117.67 L567.78 118.2 L569.03 118.74 L570.28 119.3 L571.53 119.86 L572.78 120.43 L574.03 121.01 L575.28 121.63 L576.53 122.27 L577.78 122.93 L579.03 123.59 L580.28 124.26 L581.53 124.91 L582.78 125.54 L584.03 126.16 L585.28 126.77 L586.53 127.37 L587.78 127.97 L589.03 128.56 L590.28 129.15 L591.53 129.75 L592.78 130.34 L594.03 130.94 L595.28 131.55 L596.53 132.17 L597.78 132.79 L599.03 133.42 L600.27 134.05 L601.52 134.69 L602.77 135.33 L604.02 135.97 L605.27 136.62 L606.52 137.26 L607.77 137.91 L609.02 138.57 L610.27 139.22 L611.52 139.87 L612.77 140.54 L614.02 141.21 L615.27 141.89 L616.52 142.57 L617.77 143.25 L619.02 143.94 L620.27 144.62 L621.52 145.3 L622.77 145.98 L624.02 146.65 L625.27 147.31 L626.52 147.96 L627.77 148.6 L629.02 149.25 L630.27 149.89 L631.52 150.53 L632.77 151.16 L634.02 151.79 L635.27 152.42 L636.52 153.03 L637.77 153.65 L639.02 154.25 L640.27 154.84 L641.52 155.43 L642.77 156 L644.02 156.56 L645.27 157.12 L646.52 157.66 L647.77 158.2 L649.02 158.74 L650.26 159.27 L651.51 159.8 L652.76 160.33 L654.01 160.86 L655.26 161.39 L656.51 161.93 L657.76 162.46 L659.01 163 L660.26 163.53 L661.51 164.07 L662.76 164.6 L664.01 165.13 L665.26 165.66 L666.51 166.18 L667.76 166.7 L669.01 167.22 L670.26 167.72 L671.51 168.23 L672.76 168.72 L674.01 169.22 L675.26 169.71 L676.51 170.19 L677.76 170.67 L679.01 171.15 L680.26 171.62 L681.51 172.09 L682.76 172.56 L684.01 173.03 L685.26 173.49 L686.51 173.95 L687.76 174.41 L689.01 174.87 L690.26 175.33 L691.51 175.79 L692.76 176.24 L694.01 176.69 L695.26 177.14 L696.51 177.57 L697.76 178 L699.01 178.42 L700.25 178.82 L701.5 179.21 L702.75 179.6 L704 179.97 L705.25 180.33 L706.5 180.69 L707.75 181.04 L709 181.38 L710.25 181.72 L711.5 182.06 L712.75 182.39 L714 182.73 L715.25 183.06 L716.5 183.4 L717.75 183.74 L719 184.09 L720.25 184.43 L721.5 184.76 L722.75 185.07 L724 185.36 L724 194.57 L722.75 194.3 L721.5 194.01 L720.25 193.7 L719 193.37 L717.75 193.03 L716.5 192.68 L715.25 192.33 L714 191.98 L712.75 191.63 L711.5 191.29 L710.25 190.94 L709 190.6 L707.75 190.25 L706.5 189.9 L705.25 189.55 L704 189.19 L702.75 188.82 L701.5 188.45 L700.25 188.07 L699.01 187.68 L697.76 187.28 L696.51 186.86 L695.26 186.44 L694.01 186 L692.76 185.56 L691.51 185.11 L690.26 184.65 L689.01 184.19 L687.76 183.72 L686.51 183.25 L685.26 182.78 L684.01 182.31 L682.76 181.84 L681.51 181.37 L680.26 180.9 L679.01 180.42 L677.76 179.95 L676.51 179.46 L675.26 178.98 L674.01 178.49 L672.76 177.99 L671.51 177.5 L670.26 177 L669.01 176.49 L667.76 175.98 L666.51 175.47 L665.26 174.95 L664.01 174.42 L662.76 173.89 L661.51 173.35 L660.26 172.81 L659.01 172.27 L657.76 171.73 L656.51 171.18 L655.26 170.64 L654.01 170.09 L652.76 169.55 L651.51 169.01 L650.26 168.47 L649.02 167.93 L647.77 167.39 L646.52 166.85 L645.27 166.31 L644.02 165.76 L642.77 165.21 L641.52 164.65 L640.27 164.08 L639.02 163.5 L637.77 162.92 L636.52 162.32 L635.27 161.72 L634.02 161.1 L632.77 160.48 L631.52 159.85 L630.27 159.22 L629.02 158.58 L627.77 157.93 L626.52 157.28 L625.27 156.63 L624.02 155.99 L622.77 155.33 L621.52 154.67 L620.27 153.99 L619.02 153.31 L617.77 152.62 L616.52 151.93 L615.27 151.24 L614.02 150.55 L612.77 149.86 L611.52 149.18 L610.27 148.5 L609.02 147.83 L607.77 147.17 L606.52 146.51 L605.27 145.86 L604.02 145.2 L602.77 144.55 L601.52 143.9 L600.27 143.26 L599.03 142.62 L597.78 141.98 L596.53 141.34 L595.28 140.71 L594.03 140.08 L592.78 139.46 L591.53 138.84 L590.28 138.24 L589.03 137.64 L587.78 137.04 L586.53 136.45 L585.28 135.86 L584.03 135.26 L582.78 134.67 L581.53 134.07 L580.28 133.46 L579.03 132.84 L577.78 132.19 L576.53 131.53 L575.28 130.86 L574.03 130.19 L572.78 129.54 L571.53 128.92 L570.28 128.32 L569.03 127.74 L567.78 127.16 L566.53 126.6 L565.28 126.04 L564.03 125.5 L562.78 124.98 L561.53 124.49 L560.28 124.01 L559.03 123.54 L557.78 123.07 L556.53 122.62 L555.28 122.19 L554.03 121.77 L552.78 121.39 L551.53 121.02 L550.28 120.63 L549.04 120.21 L547.79 119.8 L546.54 119.43 L545.29 119.12 L544.04 118.94 L542.79 118.88 L541.54 118.83 L540.29 118.79 L539.04 118.75 L537.79 118.72 L536.54 118.65 L535.29 118.62 L534.04 118.8 L532.79 119.12 L531.54 119.5 L530.29 119.89 L529.04 120.26 L527.79 120.71 L526.54 121.3 L525.29 121.95 L524.04 122.67 L522.79 123.59 L521.54 124.56 L520.29 125.61 L519.04 126.8 L517.79 128.08 L516.54 129.44 L515.29 130.84 L514.04 132.3 L512.79 133.83 L511.54 135.52 L510.29 137.34 L509.04 139.23 L507.79 141.15 L506.54 143.1 L505.29 145.05 L504.04 147.11 L502.79 149.33 L501.54 151.6 L500.29 153.82 L499.05 155.97 L497.8 158.01 L496.55 160.02 L495.3 162.08 L494.05 164.16 L492.8 166.23 L491.55 168.29 L490.3 170.34 L489.05 172.38 L487.8 174.43 L486.55 176.51 L485.3 178.61 L484.05 180.75 L482.8 182.93 L481.55 185.11 L480.3 187.3 L479.05 189.5 L477.8 191.71 L476.55 193.93 L475.3 196.14 Z" fill="#97979c"/>
<path d="M477 215.24 L478.21 213.15 L479.42 210.93 L480.63 208.69 L481.83 206.43 L483.04 204.15 L484.25 201.86 L485.46 199.57 L486.67 197.28 L487.88 195 L489.09 192.74 L490.29 190.49 L491.5 188.28 L492.71 186.09 L493.92 183.94 L495.13 181.84 L496.34 179.78 L497.55 177.78 L498.75 175.8 L499.96 173.81 L501.17 171.82 L502.38 169.85 L503.59 167.88 L504.8 165.93 L506.01 163.98 L507.21 162.03 L508.42 160.08 L509.63 158.13 L510.84 156.18 L512.05 154.23 L513.26 152.26 L514.46 150.29 L515.67 148.31 L516.88 146.27 L518.09 144.17 L519.3 142.13 L520.51 140.28 L521.72 138.65 L522.92 137.2 L524.13 135.78 L525.34 134.36 L526.55 132.93 L527.76 131.49 L528.97 130.01 L530.18 128.44 L531.38 126.79 L532.59 125.19 L533.8 123.75 L535.01 122.52 L536.22 121.54 L537.43 120.73 L538.64 119.89 L539.84 119.03 L541.05 118.26 L542.26 117.62 L543.47 117.1 L544.68 116.67 L545.89 116.23 L547.1 115.76 L548.3 115.36 L549.51 115.07 L550.72 114.88 L551.93 114.8 L553.14 114.81 L554.35 114.85 L555.56 114.91 L556.76 115 L557.97 115.11 L559.18 115.23 L560.39 115.37 L561.6 115.51 L562.81 115.68 L564.02 115.91 L565.22 116.21 L566.43 116.55 L567.64 116.93 L568.85 117.34 L570.06 117.77 L571.27 118.2 L572.47 118.6 L573.68 118.99 L574.89 119.39 L576.1 119.79 L577.31 120.2 L578.52 120.62 L579.73 121.05 L580.93 121.5 L582.14 121.96 L583.35 122.45 L584.56 122.94 L585.77 123.42 L586.98 124 L588.19 124.72 L589.39 125.51 L590.6 126.25 L591.81 126.94 L593.02 127.62 L594.23 128.29 L595.44 128.96 L596.65 129.62 L597.85 130.28 L599.06 130.93 L600.27 131.59 L601.48 132.24 L602.69 132.89 L603.9 133.54 L605.11 134.2 L606.31 134.86 L607.52 135.52 L608.73 136.18 L609.94 136.84 L611.15 137.5 L612.36 138.16 L613.57 138.82 L614.77 139.49 L615.98 140.15 L617.19 140.81 L618.4 141.46 L619.61 142.12 L620.82 142.78 L622.03 143.44 L623.23 144.11 L624.44 144.77 L625.65 145.44 L626.86 146.11 L628.07 146.78 L629.28 147.45 L630.48 148.11 L631.69 148.77 L632.9 149.42 L634.11 150.06 L635.32 150.71 L636.53 151.35 L637.74 151.99 L638.94 152.62 L640.15 153.26 L641.36 153.89 L642.57 154.51 L643.78 155.13 L644.99 155.75 L646.2 156.36 L647.4 156.96 L648.61 157.56 L649.82 158.15 L651.03 158.75 L652.24 159.35 L653.45 159.95 L654.66 160.54 L655.86 161.13 L657.07 161.72 L658.28 162.3 L659.49 162.87 L660.7 163.42 L661.91 163.97 L663.12 164.49 L664.32 165 L665.53 165.48 L666.74 165.95 L667.95 166.41 L669.16 166.86 L670.37 167.29 L671.58 167.71 L672.78 168.13 L673.99 168.53 L675.2 168.93 L676.41 169.33 L677.62 169.72 L678.83 170.11 L680.04 170.5 L681.24 170.89 L682.45 171.28 L683.66 171.66 L684.87 172.04 L686.08 172.42 L687.29 172.79 L688.49 173.16 L689.7 173.53 L690.91 173.89 L692.12 174.24 L693.33 174.59 L694.54 174.94 L695.75 175.28 L696.95 175.62 L698.16 175.95 L699.37 176.27 L700.58 176.6 L701.79 176.91 L703 177.23 L704.21 177.54 L705.41 177.85 L706.62 178.15 L707.83 178.46 L709.04 178.76 L710.25 179.05 L711.46 179.35 L712.67 179.64 L713.87 179.93 L715.08 180.22 L716.29 180.51 L717.5 180.79 L717.5 190.05 L716.29 189.75 L715.08 189.46 L713.87 189.17 L712.67 188.87 L711.46 188.58 L710.25 188.28 L709.04 187.98 L707.83 187.67 L706.62 187.37 L705.41 187.06 L704.21 186.75 L703 186.44 L701.79 186.12 L700.58 185.8 L699.37 185.48 L698.16 185.15 L696.95 184.82 L695.75 184.49 L694.54 184.15 L693.33 183.81 L692.12 183.46 L690.91 183.11 L689.7 182.75 L688.49 182.38 L687.29 182.02 L686.08 181.64 L684.87 181.27 L683.66 180.89 L682.45 180.5 L681.24 180.12 L680.04 179.72 L678.83 179.33 L677.62 178.93 L676.41 178.54 L675.2 178.14 L673.99 177.74 L672.78 177.34 L671.58 176.94 L670.37 176.52 L669.16 176.1 L667.95 175.68 L666.74 175.24 L665.53 174.79 L664.32 174.34 L663.12 173.87 L661.91 173.39 L660.7 172.88 L659.49 172.36 L658.28 171.83 L657.07 171.27 L655.86 170.71 L654.66 170.13 L653.45 169.55 L652.24 168.95 L651.03 168.35 L649.82 167.75 L648.61 167.14 L647.4 166.54 L646.2 165.94 L644.99 165.34 L643.78 164.74 L642.57 164.12 L641.36 163.5 L640.15 162.88 L638.94 162.25 L637.74 161.62 L636.53 160.98 L635.32 160.34 L634.11 159.7 L632.9 159.05 L631.69 158.41 L630.48 157.76 L629.28 157.11 L628.07 156.45 L626.86 155.78 L625.65 155.11 L624.44 154.44 L623.23 153.76 L622.03 153.08 L620.82 152.4 L619.61 151.73 L618.4 151.06 L617.19 150.39 L615.98 149.72 L614.77 149.06 L613.57 148.4 L612.36 147.74 L611.15 147.08 L609.94 146.42 L608.73 145.76 L607.52 145.09 L606.31 144.43 L605.11 143.77 L603.9 143.11 L602.69 142.45 L601.48 141.79 L600.27 141.13 L599.06 140.48 L597.85 139.83 L596.65 139.18 L595.44 138.53 L594.23 137.87 L593.02 137.22 L591.81 136.56 L590.6 135.89 L589.39 135.25 L588.19 134.58 L586.98 133.8 L585.77 132.97 L584.56 132.24 L583.35 131.64 L582.14 131.08 L580.93 130.55 L579.73 130.05 L578.52 129.57 L577.31 129.12 L576.1 128.68 L574.89 128.26 L573.68 127.84 L572.47 127.44 L571.27 127.05 L570.06 126.65 L568.85 126.24 L567.64 125.81 L566.43 125.38 L565.22 124.96 L564.02 124.58 L562.81 124.25 L561.6 124 L560.39 123.83 L559.18 123.69 L557.97 123.55 L556.76 123.43 L555.56 123.33 L554.35 123.25 L553.14 123.21 L551.93 123.22 L550.72 123.41 L549.51 123.79 L548.3 124.27 L547.1 124.8 L545.89 125.34 L544.68 125.92 L543.47 126.7 L542.26 127.64 L541.05 128.68 L539.84 129.79 L538.64 130.93 L537.43 132.2 L536.22 133.77 L535.01 135.53 L533.8 137.28 L532.59 138.97 L531.38 140.53 L530.18 141.97 L528.97 143.4 L527.76 144.92 L526.55 146.51 L525.34 148.2 L524.13 149.99 L522.92 151.95 L521.72 154.11 L520.51 156.34 L519.3 158.51 L518.09 160.55 L516.88 162.46 L515.67 164.36 L514.46 166.31 L513.26 168.26 L512.05 170.21 L510.84 172.17 L509.63 174.13 L508.42 176.1 L507.21 178.09 L506.01 180.08 L504.8 182.09 L503.59 184.12 L502.38 186.17 L501.17 188.24 L499.96 190.33 L498.75 192.45 L497.55 194.63 L496.34 196.88 L495.13 199.14 L493.92 201.42 L492.71 203.71 L491.5 206 L490.29 208.29 L489.09 210.57 L487.88 212.83 L486.67 215.07 L485.46 217.28 L484.25 219.46 L483.04 221.6 L481.83 223.7 L480.63 225.75 L479.42 227.74 L478.21 229.67 L477 231.62 Z" fill="#b6b6ba"/>
<path d="M475.5 209.97 L476.72 208.06 L477.93 206.08 L479.15 204.08 L480.36 202.06 L481.58 200.03 L482.8 197.99 L484.01 195.95 L485.23 193.9 L486.44 191.85 L487.66 189.81 L488.88 187.77 L490.09 185.74 L491.31 183.72 L492.53 181.72 L493.74 179.74 L494.96 177.77 L496.17 175.79 L497.39 173.78 L498.61 171.77 L499.82 169.75 L501.04 167.74 L502.25 165.73 L503.47 163.72 L504.69 161.71 L505.9 159.71 L507.12 157.72 L508.33 155.73 L509.55 153.74 L510.77 151.77 L511.98 149.81 L513.2 147.86 L514.41 145.92 L515.63 143.99 L516.85 142.07 L518.06 140.14 L519.28 138.2 L520.49 136.22 L521.71 134.23 L522.93 132.28 L524.14 130.38 L525.36 128.54 L526.58 126.77 L527.79 124.92 L529.01 123 L530.22 121.2 L531.44 119.62 L532.66 118.28 L533.87 117.2 L535.09 116.17 L536.3 115.02 L537.52 113.92 L538.74 112.9 L539.95 111.97 L541.17 111.15 L542.38 110.43 L543.6 109.83 L544.82 109.31 L546.03 108.81 L547.25 108.33 L548.46 107.94 L549.68 107.65 L550.9 107.44 L552.11 107.27 L553.33 107.09 L554.55 106.95 L555.76 106.86 L556.98 106.81 L558.19 106.82 L559.41 106.92 L560.63 107.13 L561.84 107.4 L563.06 107.69 L564.27 107.97 L565.49 108.3 L566.71 108.68 L567.92 109.1 L569.14 109.52 L570.35 109.96 L571.57 110.44 L572.79 110.94 L574 111.46 L575.22 112.01 L576.43 112.57 L577.65 113.14 L578.87 113.7 L580.08 114.29 L581.3 114.89 L582.52 115.5 L583.73 116.13 L584.95 116.77 L586.16 117.42 L587.38 118.07 L588.6 118.72 L589.81 119.38 L591.03 120.02 L592.24 120.67 L593.46 121.33 L594.68 121.99 L595.89 122.65 L597.11 123.31 L598.32 123.98 L599.54 124.65 L600.76 125.32 L601.97 125.99 L603.19 126.66 L604.4 127.33 L605.62 128 L606.84 128.67 L608.05 129.35 L609.27 130.03 L610.48 130.72 L611.7 131.4 L612.92 132.09 L614.13 132.78 L615.35 133.46 L616.57 134.13 L617.78 134.79 L619 135.44 L620.21 136.09 L621.43 136.72 L622.65 137.34 L623.86 137.95 L625.08 138.56 L626.29 139.16 L627.51 139.75 L628.73 140.35 L629.94 140.94 L631.16 141.52 L632.37 142.11 L633.59 142.7 L634.81 143.28 L636.02 143.88 L637.24 144.47 L638.45 145.08 L639.67 145.68 L640.89 146.29 L642.1 146.89 L643.32 147.49 L644.54 148.08 L645.75 148.67 L646.97 149.24 L648.18 149.8 L649.4 150.34 L650.62 150.87 L651.83 151.4 L653.05 151.93 L654.26 152.45 L655.48 152.97 L656.7 153.47 L657.91 153.97 L659.13 154.46 L660.34 154.93 L661.56 155.39 L662.78 155.84 L663.99 156.26 L665.21 156.68 L666.42 157.08 L667.64 157.48 L668.86 157.88 L670.07 158.26 L671.29 158.64 L672.51 159 L673.72 159.36 L674.94 159.71 L676.15 160.05 L677.37 160.38 L678.59 160.7 L679.8 161 L681.02 161.3 L682.23 161.58 L683.45 161.85 L684.67 162.11 L685.88 162.36 L687.1 162.6 L688.31 162.84 L689.53 163.07 L690.75 163.3 L691.96 163.53 L693.18 163.76 L694.39 163.99 L695.61 164.22 L696.83 164.46 L698.04 164.69 L699.26 164.92 L700.47 165.15 L701.69 165.38 L702.91 165.61 L704.12 165.84 L705.34 166.07 L706.56 166.29 L707.77 166.52 L708.99 166.74 L710.2 166.97 L711.42 167.19 L712.64 167.41 L713.85 167.63 L715.07 167.85 L716.28 168.07 L717.5 168.28 L717.5 177.84 L716.28 177.61 L715.07 177.38 L713.85 177.14 L712.64 176.91 L711.42 176.67 L710.2 176.43 L708.99 176.19 L707.77 175.95 L706.56 175.71 L705.34 175.47 L704.12 175.23 L702.91 174.99 L701.69 174.74 L700.47 174.5 L699.26 174.25 L698.04 174 L696.83 173.75 L695.61 173.5 L694.39 173.25 L693.18 173 L691.96 172.75 L690.75 172.5 L689.53 172.26 L688.31 172.01 L687.1 171.76 L685.88 171.51 L684.67 171.26 L683.45 170.99 L682.23 170.72 L681.02 170.44 L679.8 170.15 L678.59 169.85 L677.37 169.53 L676.15 169.21 L674.94 168.87 L673.72 168.52 L672.51 168.17 L671.29 167.8 L670.07 167.43 L668.86 167.04 L667.64 166.65 L666.42 166.25 L665.21 165.84 L663.99 165.43 L662.78 165.01 L661.56 164.58 L660.34 164.14 L659.13 163.68 L657.91 163.21 L656.7 162.73 L655.48 162.23 L654.26 161.72 L653.05 161.2 L651.83 160.67 L650.62 160.14 L649.4 159.6 L648.18 159.06 L646.97 158.51 L645.75 157.96 L644.54 157.39 L643.32 156.81 L642.1 156.22 L640.89 155.61 L639.67 155 L638.45 154.39 L637.24 153.76 L636.02 153.14 L634.81 152.52 L633.59 151.9 L632.37 151.29 L631.16 150.68 L629.94 150.07 L628.73 149.46 L627.51 148.86 L626.29 148.25 L625.08 147.65 L623.86 147.03 L622.65 146.42 L621.43 145.8 L620.21 145.17 L619 144.54 L617.78 143.9 L616.57 143.25 L615.35 142.59 L614.13 141.93 L612.92 141.26 L611.7 140.58 L610.48 139.9 L609.27 139.21 L608.05 138.52 L606.84 137.84 L605.62 137.15 L604.4 136.47 L603.19 135.8 L601.97 135.13 L600.76 134.46 L599.54 133.79 L598.32 133.11 L597.11 132.44 L595.89 131.77 L594.68 131.1 L593.46 130.43 L592.24 129.77 L591.03 129.11 L589.81 128.45 L588.6 127.8 L587.38 127.15 L586.16 126.5 L584.95 125.84 L583.73 125.18 L582.52 124.53 L581.3 123.88 L580.08 123.24 L578.87 122.61 L577.65 122.01 L576.43 121.42 L575.22 120.84 L574 120.26 L572.79 119.69 L571.57 119.13 L570.35 118.59 L569.14 118.08 L567.92 117.61 L566.71 117.15 L565.49 116.71 L564.27 116.29 L563.06 115.94 L561.84 115.63 L560.63 115.32 L559.41 115.03 L558.19 114.84 L556.98 114.81 L555.76 114.88 L554.55 115 L553.33 115.17 L552.11 115.37 L550.9 115.6 L549.68 115.95 L548.46 116.45 L547.25 117.04 L546.03 117.67 L544.82 118.37 L543.6 119.23 L542.38 120.25 L541.17 121.37 L539.95 122.57 L538.74 123.85 L537.52 125.17 L536.3 126.54 L535.09 127.96 L533.87 129.63 L532.66 131.63 L531.44 133.71 L530.22 135.76 L529.01 137.73 L527.79 139.57 L526.58 141.43 L525.36 143.42 L524.14 145.44 L522.93 147.45 L521.71 149.42 L520.49 151.35 L519.28 153.26 L518.06 155.2 L516.85 157.15 L515.63 159.11 L514.41 161.1 L513.2 163.09 L511.98 165.09 L510.77 167.1 L509.55 169.11 L508.33 171.12 L507.12 173.13 L505.9 175.14 L504.69 177.16 L503.47 179.17 L502.25 181.18 L501.04 183.18 L499.82 185.19 L498.61 187.18 L497.39 189.17 L496.17 191.15 L494.96 193.15 L493.74 195.18 L492.53 197.23 L491.31 199.28 L490.09 201.32 L488.88 203.37 L487.66 205.4 L486.44 207.42 L485.23 209.43 L484.01 211.42 L482.8 213.38 L481.58 215.33 L480.36 217.25 L479.15 219.13 L477.93 220.98 L476.72 222.8 L475.5 224.63 Z" fill="#d8d8db"/>
<path d="M546.7 293.7 L547.9 291.33 L549.11 288.95 L550.31 286.56 L551.52 284.16 L552.72 281.72 L553.93 279.21 L555.13 276.71 L556.33 274.26 L557.54 271.93 L558.74 269.76 L559.95 267.67 L561.15 265.65 L562.36 263.7 L563.56 261.82 L564.77 260 L565.97 258.23 L567.17 256.52 L568.38 254.87 L569.58 253.27 L570.79 251.71 L571.99 250.2 L573.2 248.73 L574.4 247.3 L575.6 245.91 L576.81 244.57 L578.01 243.27 L579.22 242 L580.42 240.74 L581.63 239.48 L582.83 238.19 L584.03 236.9 L585.24 235.68 L586.44 234.63 L587.65 233.68 L588.85 232.79 L590.06 231.95 L591.26 231.16 L592.47 230.39 L593.67 229.63 L594.87 228.89 L596.08 228.17 L597.28 227.48 L598.49 226.81 L599.69 226.17 L600.9 225.55 L602.1 224.96 L603.3 224.39 L604.51 223.84 L605.71 223.31 L606.92 222.78 L608.12 222.27 L609.33 221.76 L610.53 221.26 L611.73 220.76 L612.94 220.27 L614.14 219.79 L615.35 219.33 L616.55 218.89 L617.76 218.48 L618.96 218.08 L620.17 217.7 L621.37 217.34 L622.57 216.98 L623.78 216.62 L624.98 216.27 L626.19 215.9 L627.39 215.54 L628.6 215.17 L629.8 214.81 L631 214.46 L632.21 214.12 L633.41 213.8 L634.62 213.49 L635.82 213.18 L637.03 212.88 L638.23 212.6 L639.43 212.32 L640.64 212.05 L641.84 211.79 L643.05 211.55 L644.25 211.31 L645.46 211.08 L646.66 210.86 L647.87 210.64 L649.07 210.44 L650.27 210.24 L651.48 210.04 L652.68 209.85 L653.89 209.66 L655.09 209.48 L656.3 209.3 L657.5 209.13 L658.7 208.97 L659.91 208.81 L661.11 208.66 L662.32 208.51 L663.52 208.37 L664.73 208.24 L665.93 208.11 L667.13 207.98 L668.34 207.86 L669.54 207.74 L670.75 207.62 L671.95 207.5 L673.16 207.39 L674.36 207.28 L675.57 207.17 L676.77 207.06 L677.97 206.95 L679.18 206.85 L680.38 206.75 L681.59 206.66 L682.79 206.57 L684 206.49 L685.2 206.41 L686.4 206.33 L687.61 206.26 L688.81 206.18 L690.02 206.11 L691.22 206.04 L692.43 205.98 L693.63 205.91 L694.83 205.85 L696.04 205.79 L697.24 205.73 L698.45 205.67 L699.65 205.61 L700.86 205.56 L702.06 205.5 L703.27 205.45 L704.47 205.4 L705.67 205.35 L706.88 205.3 L708.08 205.26 L709.29 205.21 L710.49 205.17 L711.7 205.13 L712.9 205.09 L714.1 205.05 L715.31 205.02 L716.51 204.98 L717.72 204.94 L718.92 204.91 L720.13 204.88 L721.33 204.84 L722.53 204.81 L723.74 204.78 L724.94 204.75 L726.15 204.72 L727.35 204.69 L728.56 204.66 L729.76 204.63 L730.97 204.6 L732.17 204.57 L733.37 204.55 L734.58 204.52 L735.78 204.49 L736.99 204.46 L738.19 204.43 L739.4 204.4 L740.6 204.37 L741.8 204.35 L743.01 204.32 L744.21 204.29 L745.42 204.26 L746.62 204.23 L747.83 204.21 L749.03 204.18 L750.23 204.15 L751.44 204.13 L752.64 204.1 L753.85 204.08 L755.05 204.05 L756.26 204.03 L757.46 204.01 L758.67 203.99 L759.87 203.97 L761.07 203.95 L762.28 203.93 L763.48 203.91 L764.69 203.9 L765.89 203.88 L767.1 203.87 L768.3 203.85 L769.5 203.84 L770.71 203.82 L771.91 203.81 L773.12 203.79 L774.32 203.78 L775.53 203.76 L776.73 203.75 L777.93 203.73 L779.14 203.72 L780.34 203.71 L781.55 203.69 L782.75 203.68 L783.96 203.66 L785.16 203.65 L786.37 203.64 L787.57 203.63 L788.77 203.61 L789.98 203.6 L791.18 203.59 L792.39 203.58 L793.59 203.56 L794.8 203.55 L796 203.54 L797.2 203.53 L798.41 203.52 L799.61 203.51 L800.82 203.5 L802.02 203.49 L803.23 203.48 L804.43 203.47 L805.63 203.47 L806.84 203.46 L808.04 203.45 L809.25 203.44 L810.45 203.44 L811.66 203.43 L812.86 203.43 L814.07 203.42 L815.27 203.42 L816.47 203.41 L817.68 203.41 L818.88 203.41 L820.09 203.4 L821.29 203.4 L822.5 203.4 L823.7 203.4" fill="none" stroke="#241f5e" stroke-width="2" stroke-dasharray="4.8 3.9"/>
<path d="M545.2 292.7 L546.4 289.82 L547.61 287.04 L548.81 284.39 L550.02 281.86 L551.22 279.47 L552.43 277.2 L553.63 275.05 L554.84 272.98 L556.04 270.98 L557.25 269.04 L558.45 267.14 L559.66 265.28 L560.86 263.47 L562.07 261.71 L563.27 260.02 L564.48 258.4 L565.68 256.87 L566.89 255.4 L568.09 253.99 L569.3 252.63 L570.5 251.3 L571.7 250.01 L572.91 248.75 L574.11 247.5 L575.32 246.27 L576.52 245.05 L577.73 243.86 L578.93 242.7 L580.14 241.57 L581.34 240.46 L582.55 239.39 L583.75 238.36 L584.96 237.34 L586.16 236.34 L587.37 235.36 L588.57 234.41 L589.78 233.48 L590.98 232.57 L592.19 231.7 L593.39 230.85 L594.6 230.03 L595.8 229.22 L597 228.43 L598.21 227.65 L599.41 226.88 L600.62 226.13 L601.82 225.4 L603.03 224.68 L604.23 223.98 L605.44 223.31 L606.64 222.65 L607.85 222.02 L609.05 221.41 L610.26 220.83 L611.46 220.26 L612.67 219.71 L613.87 219.17 L615.08 218.64 L616.28 218.13 L617.49 217.63 L618.69 217.14 L619.9 216.67 L621.1 216.22 L622.3 215.78 L623.51 215.36 L624.71 214.95 L625.92 214.56 L627.12 214.18 L628.33 213.81 L629.53 213.45 L630.74 213.1 L631.94 212.76 L633.15 212.43 L634.35 212.11 L635.56 211.8 L636.76 211.5 L637.97 211.22 L639.17 210.95 L640.38 210.69 L641.58 210.44 L642.79 210.21 L643.99 209.99 L645.2 209.78 L646.4 209.58 L647.6 209.38 L648.81 209.19 L650.01 209.01 L651.22 208.83 L652.42 208.66 L653.63 208.49 L654.83 208.32 L656.04 208.15 L657.24 207.98 L658.45 207.82 L659.65 207.65 L660.86 207.48 L662.06 207.31 L663.27 207.14 L664.47 206.98 L665.68 206.81 L666.88 206.65 L668.09 206.48 L669.29 206.32 L670.5 206.16 L671.7 206.01 L672.9 205.85 L674.11 205.7 L675.31 205.55 L676.52 205.41 L677.72 205.26 L678.93 205.12 L680.13 204.98 L681.34 204.85 L682.54 204.72 L683.75 204.59 L684.95 204.46 L686.16 204.33 L687.36 204.21 L688.57 204.08 L689.77 203.96 L690.98 203.84 L692.18 203.72 L693.39 203.61 L694.59 203.49 L695.8 203.38 L697 203.27 L698.2 203.16 L699.41 203.05 L700.61 202.95 L701.82 202.84 L703.02 202.73 L704.23 202.63 L705.43 202.52 L706.64 202.42 L707.84 202.32 L709.05 202.21 L710.25 202.11 L711.46 202.01 L712.66 201.91 L713.87 201.81 L715.07 201.71 L716.28 201.62 L717.48 201.52 L718.69 201.43 L719.89 201.34 L721.1 201.25 L722.3 201.16 L723.5 201.07 L724.71 200.98 L725.91 200.9 L727.12 200.82 L728.32 200.73 L729.53 200.66 L730.73 200.58 L731.94 200.5 L733.14 200.43 L734.35 200.36 L735.55 200.28 L736.76 200.21 L737.96 200.14 L739.17 200.07 L740.37 200 L741.58 199.93 L742.78 199.86 L743.99 199.79 L745.19 199.72 L746.4 199.66 L747.6 199.59 L748.8 199.53 L750.01 199.47 L751.21 199.41 L752.42 199.35 L753.62 199.3 L754.83 199.24 L756.03 199.19 L757.24 199.14 L758.44 199.09 L759.65 199.04 L760.85 199 L762.06 198.96 L763.26 198.92 L764.47 198.88 L765.67 198.85 L766.88 198.81 L768.08 198.77 L769.29 198.74 L770.49 198.7 L771.7 198.67 L772.9 198.63 L774.1 198.6 L775.31 198.56 L776.51 198.53 L777.72 198.49 L778.92 198.46 L780.13 198.43 L781.33 198.39 L782.54 198.36 L783.74 198.33 L784.95 198.3 L786.15 198.26 L787.36 198.23 L788.56 198.2 L789.77 198.17 L790.97 198.14 L792.18 198.12 L793.38 198.09 L794.59 198.06 L795.79 198.03 L797 198.01 L798.2 197.98 L799.4 197.96 L800.61 197.94 L801.81 197.92 L803.02 197.89 L804.22 197.87 L805.43 197.85 L806.63 197.84 L807.84 197.82 L809.04 197.8 L810.25 197.79 L811.45 197.77 L812.66 197.76 L813.86 197.75 L815.07 197.74 L816.27 197.73 L817.48 197.72 L818.68 197.71 L819.89 197.71 L821.09 197.7 L822.3 197.7 L823.5 197.7" fill="none" stroke="#2b2a9e" stroke-width="2" stroke-dasharray="4.8 3.9"/>
<path d="M546 292.7 L547.2 289.97 L548.4 287.32 L549.6 284.75 L550.81 282.27 L552.01 279.89 L553.21 277.59 L554.41 275.36 L555.61 273.21 L556.81 271.13 L558.01 269.11 L559.21 267.15 L560.42 265.26 L561.62 263.41 L562.82 261.61 L564.02 259.86 L565.22 258.14 L566.42 256.45 L567.62 254.78 L568.82 253.14 L570.03 251.55 L571.23 250 L572.43 248.51 L573.63 247.07 L574.83 245.66 L576.03 244.27 L577.23 242.9 L578.44 241.56 L579.64 240.25 L580.84 238.98 L582.04 237.74 L583.24 236.56 L584.44 235.42 L585.64 234.33 L586.84 233.29 L588.05 232.3 L589.25 231.34 L590.45 230.43 L591.65 229.54 L592.85 228.67 L594.05 227.82 L595.25 226.98 L596.45 226.15 L597.66 225.32 L598.86 224.49 L600.06 223.65 L601.26 222.81 L602.46 221.96 L603.66 221.12 L604.86 220.29 L606.06 219.47 L607.27 218.66 L608.47 217.87 L609.67 217.1 L610.87 216.35 L612.07 215.64 L613.27 214.96 L614.47 214.32 L615.68 213.71 L616.88 213.11 L618.08 212.53 L619.28 211.96 L620.48 211.41 L621.68 210.88 L622.88 210.35 L624.08 209.85 L625.29 209.35 L626.49 208.87 L627.69 208.4 L628.89 207.94 L630.09 207.5 L631.29 207.07 L632.49 206.64 L633.69 206.24 L634.9 205.83 L636.1 205.44 L637.3 205.05 L638.5 204.66 L639.7 204.29 L640.9 203.91 L642.1 203.55 L643.31 203.19 L644.51 202.84 L645.71 202.49 L646.91 202.15 L648.11 201.82 L649.31 201.5 L650.51 201.18 L651.71 200.88 L652.92 200.58 L654.12 200.29 L655.32 200.01 L656.52 199.74 L657.72 199.47 L658.92 199.22 L660.12 198.98 L661.32 198.74 L662.53 198.51 L663.73 198.29 L664.93 198.08 L666.13 197.87 L667.33 197.67 L668.53 197.48 L669.73 197.28 L670.94 197.1 L672.14 196.92 L673.34 196.74 L674.54 196.56 L675.74 196.39 L676.94 196.22 L678.14 196.06 L679.34 195.89 L680.55 195.73 L681.75 195.56 L682.95 195.4 L684.15 195.25 L685.35 195.09 L686.55 194.94 L687.75 194.79 L688.95 194.64 L690.16 194.49 L691.36 194.35 L692.56 194.21 L693.76 194.07 L694.96 193.94 L696.16 193.81 L697.36 193.68 L698.56 193.55 L699.77 193.42 L700.97 193.3 L702.17 193.18 L703.37 193.06 L704.57 192.94 L705.77 192.82 L706.97 192.7 L708.18 192.58 L709.38 192.46 L710.58 192.35 L711.78 192.23 L712.98 192.12 L714.18 192.01 L715.38 191.9 L716.58 191.79 L717.79 191.69 L718.99 191.58 L720.19 191.48 L721.39 191.38 L722.59 191.28 L723.79 191.19 L724.99 191.09 L726.19 191 L727.4 190.91 L728.6 190.83 L729.8 190.75 L731 190.66 L732.2 190.59 L733.4 190.51 L734.6 190.44 L735.81 190.36 L737.01 190.29 L738.21 190.22 L739.41 190.14 L740.61 190.07 L741.81 190.01 L743.01 189.94 L744.21 189.87 L745.42 189.81 L746.62 189.74 L747.82 189.68 L749.02 189.62 L750.22 189.56 L751.42 189.5 L752.62 189.44 L753.82 189.39 L755.03 189.34 L756.23 189.28 L757.43 189.23 L758.63 189.19 L759.83 189.14 L761.03 189.1 L762.23 189.05 L763.44 189.01 L764.64 188.98 L765.84 188.94 L767.04 188.9 L768.24 188.86 L769.44 188.83 L770.64 188.79 L771.84 188.75 L773.05 188.71 L774.25 188.68 L775.45 188.64 L776.65 188.6 L777.85 188.57 L779.05 188.53 L780.25 188.5 L781.45 188.46 L782.66 188.43 L783.86 188.4 L785.06 188.36 L786.26 188.33 L787.46 188.3 L788.66 188.27 L789.86 188.23 L791.06 188.2 L792.27 188.17 L793.47 188.14 L794.67 188.12 L795.87 188.09 L797.07 188.06 L798.27 188.03 L799.47 188.01 L800.68 187.98 L801.88 187.96 L803.08 187.94 L804.28 187.91 L805.48 187.89 L806.68 187.87 L807.88 187.85 L809.08 187.84 L810.29 187.82 L811.49 187.8 L812.69 187.79 L813.89 187.77 L815.09 187.76 L816.29 187.75 L817.49 187.74 L818.69 187.73 L819.9 187.72 L821.1 187.71 L822.3 187.7 L823.5 187.7" fill="none" stroke="#14b0d6" stroke-width="2" stroke-dasharray="4.8 3.9"/>
<path d="M470.5 197.6 L471.7 195.45 L472.9 193.32 L474.1 191.2 L475.3 189.1 L476.5 187 L477.71 184.92 L478.91 182.84 L480.11 180.78 L481.31 178.73 L482.51 176.7 L483.71 174.68 L484.91 172.69 L486.11 170.71 L487.31 168.75 L488.51 166.79 L489.71 164.83 L490.91 162.87 L492.12 160.89 L493.32 158.92 L494.52 156.94 L495.72 154.96 L496.92 153 L498.12 151.02 L499.32 149.01 L500.52 146.99 L501.72 145.01 L502.92 143.09 L504.12 141.25 L505.32 139.51 L506.53 137.8 L507.73 136.14 L508.93 134.53 L510.13 132.99 L511.33 131.53 L512.53 130.18 L513.73 128.92 L514.93 127.7 L516.13 126.53 L517.33 125.43 L518.53 124.4 L519.73 123.46 L520.94 122.61 L522.14 121.81 L523.34 121.06 L524.54 120.35 L525.74 119.7 L526.94 119.11 L528.14 118.59 L529.34 118.14 L530.54 117.69 L531.74 117.25 L532.94 116.86 L534.14 116.55 L535.35 116.35 L536.55 116.3 L537.75 116.33 L538.95 116.4 L540.15 116.5 L541.35 116.62 L542.55 116.76 L543.75 116.91 L544.95 117.11 L546.15 117.38 L547.35 117.72 L548.56 118.11 L549.76 118.54 L550.96 118.98 L552.16 119.43 L553.36 119.89 L554.56 120.4 L555.76 120.95 L556.96 121.54 L558.16 122.15 L559.36 122.78 L560.56 123.41 L561.76 124.04 L562.97 124.68 L564.17 125.35 L565.37 126.03 L566.57 126.72 L567.77 127.43 L568.97 128.13 L570.17 128.84 L571.37 129.55 L572.57 130.25 L573.77 130.96 L574.97 131.67 L576.17 132.39 L577.38 133.11 L578.58 133.82 L579.78 134.55 L580.98 135.27 L582.18 135.98 L583.38 136.69 L584.58 137.39 L585.78 138.08 L586.98 138.78 L588.18 139.49 L589.38 140.21 L590.58 140.94 L591.79 141.7 L592.99 142.49 L594.19 143.3 L595.39 144.15 L596.59 145.03 L597.79 145.93 L598.99 146.85 L600.19 147.79 L601.39 148.75 L602.59 149.72 L603.79 150.7 L604.99 151.68 L606.2 152.68 L607.4 153.67 L608.6 154.66 L609.8 155.65 L611 156.64 L612.2 157.64 L613.4 158.65 L614.6 159.67 L615.8 160.7 L617 161.73 L618.2 162.76 L619.41 163.8 L620.61 164.83 L621.81 165.87 L623.01 166.89 L624.21 167.92 L625.41 168.93 L626.61 169.93 L627.81 170.91 L629.01 171.89 L630.21 172.87 L631.41 173.84 L632.61 174.83 L633.82 175.82 L635.02 176.83 L636.22 177.85 L637.42 178.9 L638.62 179.98 L639.82 181.09 L641.02 182.24 L642.22 183.4 L643.42 184.58 L644.62 185.77 L645.82 186.96 L647.02 188.15 L648.23 189.32 L649.43 190.48 L650.63 191.66 L651.83 192.83 L653.03 194.01 L654.23 195.19 L655.43 196.37 L656.63 197.55 L657.83 198.72 L659.03 199.89 L660.23 201.06 L661.43 202.21 L662.64 203.36 L663.84 204.5 L665.04 205.63 L666.24 206.74 L667.44 207.84 L668.64 208.92 L669.84 209.99 L671.04 211.06 L672.24 212.13 L673.44 213.19 L674.64 214.26 L675.84 215.34 L677.05 216.43 L678.25 217.54 L679.45 218.66 L680.65 219.8 L681.85 220.96 L683.05 222.13 L684.25 223.31 L685.45 224.49 L686.65 225.69 L687.85 226.9 L689.05 228.11 L690.26 229.32 L691.46 230.54 L692.66 231.76 L693.86 232.98 L695.06 234.21 L696.26 235.42 L697.46 236.64 L698.66 237.85 L699.86 239.06 L701.06 240.26 L702.26 241.46 L703.46 242.66 L704.67 243.86 L705.87 245.06 L707.07 246.26 L708.27 247.47 L709.47 248.67 L710.67 249.87 L711.87 251.07 L713.07 252.27 L714.27 253.47 L715.47 254.67 L716.67 255.87 L717.87 257.07 L719.08 258.27 L720.28 259.47 L721.48 260.68 L722.68 261.88 L723.88 263.08 L725.08 264.29 L726.28 265.49 L727.48 266.69 L728.68 267.9 L729.88 269.1 L731.08 270.3 L732.28 271.51 L733.49 272.71 L734.69 273.91 L735.89 275.12 L737.09 276.32 L738.29 277.53 L739.49 278.73 L740.69 279.94 L741.89 281.14 L743.09 282.35 L744.29 283.55 L745.49 284.76 L746.69 285.96 L747.9 287.17 L749.1 288.37 L750.3 289.58 L751.5 290.79 L752.7 291.99 L753.9 293.2" fill="none" stroke="#241f5e" stroke-width="1.9" stroke-dasharray="1.05 2.05"/>
<path d="M470.2 233.8 L471.4 232.05 L472.61 230.28 L473.81 228.48 L475.01 226.63 L476.21 224.71 L477.42 222.74 L478.62 220.71 L479.82 218.63 L481.03 216.51 L482.23 214.35 L483.43 212.17 L484.64 209.95 L485.84 207.72 L487.04 205.48 L488.24 203.23 L489.45 200.98 L490.65 198.73 L491.85 196.49 L493.06 194.27 L494.26 192.06 L495.46 189.89 L496.66 187.75 L497.87 185.65 L499.07 183.58 L500.27 181.54 L501.48 179.51 L502.68 177.5 L503.88 175.5 L505.09 173.52 L506.29 171.55 L507.49 169.58 L508.69 167.62 L509.9 165.67 L511.1 163.72 L512.3 161.78 L513.51 159.83 L514.71 157.89 L515.91 155.94 L517.11 153.99 L518.32 151.99 L519.52 149.99 L520.72 148.02 L521.93 146.14 L523.13 144.39 L524.33 142.74 L525.54 141.15 L526.74 139.63 L527.94 138.14 L529.14 136.66 L530.35 135.2 L531.55 133.68 L532.75 132.14 L533.96 130.63 L535.16 129.21 L536.36 127.93 L537.56 126.85 L538.77 125.89 L539.97 124.98 L541.17 124.15 L542.38 123.42 L543.58 122.8 L544.78 122.34 L545.99 121.97 L547.19 121.62 L548.39 121.32 L549.59 121.06 L550.8 120.89 L552 120.8 L553.2 120.84 L554.41 121.02 L555.61 121.3 L556.81 121.64 L558.01 122 L559.22 122.46 L560.42 123.06 L561.62 123.76 L562.83 124.49 L564.03 125.27 L565.23 126.15 L566.44 127.09 L567.64 128.06 L568.84 129.02 L570.04 129.93 L571.25 130.8 L572.45 131.67 L573.65 132.52 L574.86 133.36 L576.06 134.2 L577.26 135.03 L578.46 135.86 L579.67 136.7 L580.87 137.53 L582.07 138.37 L583.28 139.22 L584.48 140.07 L585.68 140.92 L586.89 141.78 L588.09 142.64 L589.29 143.49 L590.49 144.34 L591.7 145.18 L592.9 146.01 L594.1 146.83 L595.31 147.64 L596.51 148.42 L597.71 149.19 L598.91 149.95 L600.12 150.69 L601.32 151.44 L602.52 152.18 L603.73 152.94 L604.93 153.7 L606.13 154.48 L607.34 155.29 L608.54 156.11 L609.74 156.97 L610.94 157.85 L612.15 158.74 L613.35 159.66 L614.55 160.58 L615.76 161.52 L616.96 162.46 L618.16 163.41 L619.36 164.36 L620.57 165.31 L621.77 166.25 L622.97 167.19 L624.18 168.11 L625.38 169.02 L626.58 169.92 L627.79 170.81 L628.99 171.69 L630.19 172.57 L631.39 173.45 L632.6 174.33 L633.8 175.22 L635 176.12 L636.21 177.03 L637.41 177.96 L638.61 178.9 L639.81 179.87 L641.02 180.86 L642.22 181.88 L643.42 182.91 L644.63 183.95 L645.83 185.01 L647.03 186.08 L648.24 187.16 L649.44 188.25 L650.64 189.34 L651.84 190.45 L653.05 191.58 L654.25 192.72 L655.45 193.87 L656.66 195.04 L657.86 196.21 L659.06 197.38 L660.26 198.55 L661.47 199.73 L662.67 200.9 L663.87 202.06 L665.08 203.21 L666.28 204.36 L667.48 205.48 L668.69 206.59 L669.89 207.69 L671.09 208.77 L672.29 209.85 L673.5 210.92 L674.7 211.99 L675.9 213.06 L677.11 214.13 L678.31 215.22 L679.51 216.31 L680.71 217.41 L681.92 218.54 L683.12 219.68 L684.32 220.84 L685.53 222.01 L686.73 223.19 L687.93 224.38 L689.14 225.58 L690.34 226.78 L691.54 227.99 L692.74 229.21 L693.95 230.43 L695.15 231.65 L696.35 232.88 L697.56 234.1 L698.76 235.32 L699.96 236.54 L701.16 237.76 L702.37 238.97 L703.57 240.17 L704.77 241.37 L705.98 242.58 L707.18 243.78 L708.38 244.98 L709.59 246.18 L710.79 247.39 L711.99 248.59 L713.19 249.79 L714.4 250.99 L715.6 252.2 L716.8 253.4 L718.01 254.6 L719.21 255.8 L720.41 257.01 L721.61 258.21 L722.82 259.42 L724.02 260.62 L725.22 261.83 L726.43 263.03 L727.63 264.24 L728.83 265.44 L730.04 266.65 L731.24 267.85 L732.44 269.06 L733.64 270.26 L734.85 271.47 L736.05 272.67 L737.25 273.88 L738.46 275.09 L739.66 276.29 L740.86 277.5 L742.06 278.71 L743.27 279.91 L744.47 281.12 L745.67 282.33 L746.88 283.53 L748.08 284.74 L749.28 285.95 L750.49 287.16 L751.69 288.37 L752.89 289.57 L754.09 290.78 L755.3 291.99 L756.5 293.2" fill="none" stroke="#2b2a9e" stroke-width="1.9" stroke-dasharray="1.05 2.05"/>
<path d="M470.2 224.9 L471.4 223.25 L472.6 221.57 L473.81 219.84 L475.01 218.04 L476.21 216.21 L477.41 214.34 L478.62 212.45 L479.82 210.53 L481.02 208.59 L482.22 206.63 L483.43 204.65 L484.63 202.66 L485.83 200.66 L487.03 198.65 L488.24 196.64 L489.44 194.63 L490.64 192.62 L491.84 190.61 L493.04 188.61 L494.25 186.63 L495.45 184.66 L496.65 182.69 L497.85 180.71 L499.06 178.73 L500.26 176.74 L501.46 174.75 L502.66 172.76 L503.87 170.77 L505.07 168.78 L506.27 166.79 L507.47 164.81 L508.68 162.83 L509.88 160.86 L511.08 158.9 L512.28 156.95 L513.48 155.01 L514.69 153.08 L515.89 151.17 L517.09 149.27 L518.29 147.37 L519.5 145.48 L520.7 143.57 L521.9 141.65 L523.1 139.73 L524.31 137.81 L525.51 135.93 L526.71 134.09 L527.91 132.27 L529.11 130.42 L530.32 128.58 L531.52 126.79 L532.72 125.13 L533.92 123.64 L535.13 122.34 L536.33 121.1 L537.53 119.91 L538.73 118.79 L539.94 117.73 L541.14 116.76 L542.34 115.89 L543.54 115.12 L544.75 114.47 L545.95 113.91 L547.15 113.39 L548.35 112.93 L549.55 112.56 L550.76 112.33 L551.96 112.2 L553.16 112.1 L554.36 112.01 L555.57 111.94 L556.77 111.91 L557.97 111.92 L559.17 112.13 L560.38 112.51 L561.58 113 L562.78 113.51 L563.98 114.07 L565.19 114.78 L566.39 115.59 L567.59 116.45 L568.79 117.3 L569.99 118.1 L571.2 118.83 L572.4 119.54 L573.6 120.23 L574.8 120.91 L576.01 121.59 L577.21 122.28 L578.41 122.98 L579.61 123.7 L580.82 124.45 L582.02 125.24 L583.22 126.08 L584.42 126.96 L585.62 127.89 L586.83 128.86 L588.03 129.85 L589.23 130.86 L590.43 131.87 L591.64 132.89 L592.84 133.9 L594.04 134.89 L595.24 135.85 L596.45 136.82 L597.65 137.78 L598.85 138.74 L600.05 139.7 L601.26 140.66 L602.46 141.61 L603.66 142.56 L604.86 143.5 L606.06 144.44 L607.27 145.37 L608.47 146.3 L609.67 147.2 L610.87 148.1 L612.08 149 L613.28 149.91 L614.48 150.83 L615.68 151.77 L616.89 152.71 L618.09 153.66 L619.29 154.62 L620.49 155.58 L621.7 156.55 L622.9 157.52 L624.1 158.5 L625.3 159.47 L626.5 160.45 L627.71 161.42 L628.91 162.4 L630.11 163.37 L631.31 164.33 L632.52 165.29 L633.72 166.25 L634.92 167.21 L636.12 168.17 L637.33 169.13 L638.53 170.08 L639.73 171.04 L640.93 171.99 L642.14 172.95 L643.34 173.9 L644.54 174.86 L645.74 175.82 L646.94 176.77 L648.15 177.73 L649.35 178.68 L650.55 179.64 L651.75 180.6 L652.96 181.56 L654.16 182.51 L655.36 183.47 L656.56 184.43 L657.77 185.39 L658.97 186.34 L660.17 187.31 L661.37 188.27 L662.58 189.23 L663.78 190.2 L664.98 191.17 L666.18 192.14 L667.38 193.1 L668.59 194.06 L669.79 195.01 L670.99 195.97 L672.19 196.92 L673.4 197.87 L674.6 198.82 L675.8 199.77 L677 200.71 L678.21 201.65 L679.41 202.6 L680.61 203.54 L681.81 204.48 L683.01 205.42 L684.22 206.36 L685.42 207.3 L686.62 208.24 L687.82 209.18 L689.03 210.12 L690.23 211.06 L691.43 212.01 L692.63 212.95 L693.84 213.9 L695.04 214.84 L696.24 215.79 L697.44 216.74 L698.65 217.7 L699.85 218.65 L701.05 219.61 L702.25 220.57 L703.45 221.53 L704.66 222.5 L705.86 223.47 L707.06 224.45 L708.26 225.42 L709.47 226.4 L710.67 227.39 L711.87 228.38 L713.07 229.38 L714.28 230.37 L715.48 231.38 L716.68 232.39 L717.88 233.4 L719.09 234.42 L720.29 235.45 L721.49 236.48 L722.69 237.52 L723.89 238.57 L725.1 239.62 L726.3 240.68 L727.5 241.74 L728.7 242.82 L729.91 243.9 L731.11 244.98 L732.31 246.08 L733.51 247.18 L734.72 248.3 L735.92 249.42 L737.12 250.55 L738.32 251.69 L739.52 252.84 L740.73 254 L741.93 255.17 L743.13 256.36 L744.33 257.55 L745.54 258.75 L746.74 259.96 L747.94 261.18 L749.14 262.41 L750.35 263.64 L751.55 264.89 L752.75 266.14 L753.95 267.41 L755.16 268.68 L756.36 269.95 L757.56 271.24 L758.76 272.53 L759.96 273.83 L761.17 275.13 L762.37 276.44 L763.57 277.76 L764.77 279.09 L765.98 280.42 L767.18 281.75 L768.38 283.1 L769.58 284.44 L770.79 285.79 L771.99 287.15 L773.19 288.51 L774.39 289.88 L775.6 291.25 L776.8 292.62 L778 294" fill="none" stroke="#14b0d6" stroke-width="1.9" stroke-dasharray="1.05 2.05"/>
<path d="M475.3 188.9 L476.55 186.72 L477.8 184.55 L479.05 182.39 L480.3 180.25 L481.55 178.12 L482.8 176.01 L484.05 173.92 L485.3 171.85 L486.55 169.8 L487.8 167.76 L489.05 165.72 L490.3 163.68 L491.55 161.63 L492.8 159.57 L494.05 157.52 L495.3 155.46 L496.55 153.41 L497.8 151.35 L499.05 149.25 L500.29 147.14 L501.54 145.04 L502.79 143.01 L504.04 141.08 L505.29 139.24 L506.54 137.45 L507.79 135.7 L509.04 134.02 L510.29 132.41 L511.54 130.9 L512.79 129.5 L514.04 128.18 L515.29 126.91 L516.54 125.71 L517.79 124.58 L519.04 123.53 L520.29 122.56 L521.54 121.69 L522.79 120.85 L524.04 120.06 L525.29 119.32 L526.54 118.65 L527.79 118.06 L529.04 117.55 L530.29 117.06 L531.54 116.58 L532.79 116.14 L534.04 115.79 L535.29 115.56 L536.54 115.5 L537.79 115.5 L539.04 115.52 L540.29 115.53 L541.54 115.55 L542.79 115.58 L544.04 115.61 L545.29 115.74 L546.54 115.97 L547.79 116.27 L549.04 116.63 L550.28 117.01 L551.53 117.39 L552.78 117.75 L554.03 118.11 L555.28 118.48 L556.53 118.88 L557.78 119.29 L559.03 119.72 L560.28 120.16 L561.53 120.61 L562.78 121.08 L564.03 121.58 L565.28 122.09 L566.53 122.62 L567.78 123.17 L569.03 123.73 L570.28 124.3 L571.53 124.87 L572.78 125.47 L574.03 126.09 L575.28 126.73 L576.53 127.38 L577.78 128.04 L579.03 128.69 L580.28 129.34 L581.53 129.96 L582.78 130.58 L584.03 131.18 L585.28 131.78 L586.53 132.38 L587.78 132.97 L589.03 133.56 L590.28 134.16 L591.53 134.76 L592.78 135.36 L594.03 135.97 L595.28 136.59 L596.53 137.21 L597.78 137.84 L599.03 138.47 L600.27 139.11 L601.52 139.75 L602.77 140.39 L604.02 141.03 L605.27 141.68 L606.52 142.33 L607.77 142.98 L609.02 143.64 L610.27 144.3 L611.52 144.96 L612.77 145.63 L614.02 146.31 L615.27 147 L616.52 147.68 L617.77 148.37 L619.02 149.05 L620.27 149.73 L621.52 150.41 L622.77 151.08 L624.02 151.74 L625.27 152.39 L626.52 153.04 L627.77 153.69 L629.02 154.33 L630.27 154.97 L631.52 155.6 L632.77 156.23 L634.02 156.86 L635.27 157.47 L636.52 158.08 L637.77 158.69 L639.02 159.28 L640.27 159.86 L641.52 160.44 L642.77 161 L644.02 161.56 L645.27 162.11 L646.52 162.65 L647.77 163.19 L649.02 163.73 L650.26 164.26 L651.51 164.8 L652.76 165.33 L654.01 165.86 L655.26 166.4 L656.51 166.94 L657.76 167.48 L659.01 168.01 L660.26 168.55 L661.51 169.09 L662.76 169.62 L664.01 170.15 L665.26 170.67 L666.51 171.19 L667.76 171.71 L669.01 172.22 L670.26 172.73 L671.51 173.23 L672.76 173.72 L674.01 174.21 L675.26 174.7 L676.51 175.18 L677.76 175.66 L679.01 176.14 L680.26 176.62 L681.51 177.09 L682.76 177.55 L684.01 178.02 L685.26 178.48 L686.51 178.94 L687.76 179.41 L689.01 179.87 L690.26 180.33 L691.51 180.79 L692.76 181.24 L694.01 181.69 L695.26 182.12 L696.51 182.55 L697.76 182.97 L699.01 183.38 L700.25 183.77 L701.5 184.16 L702.75 184.53 L704 184.9 L705.25 185.26 L706.5 185.62 L707.75 185.96 L709 186.31 L710.25 186.65 L711.5 186.99 L712.75 187.33 L714 187.67 L715.25 188.01 L716.5 188.35 L717.75 188.7 L719 189.04 L720.25 189.37 L721.5 189.69 L722.75 189.99 L724 190.26" fill="none" stroke="#241f5e" stroke-width="1.95"/>
<path d="M724 190.26 L725.69 190.62 L727.38 190.95 L729.07 191.27 L730.76 191.58 L732.45 191.88 L734.14 192.17 L735.83 192.45 L737.52 192.73 L739.21 193.01 L740.9 193.28 L742.59 193.55 L744.28 193.83 L745.97 194.11 L747.66 194.38 L749.35 194.65 L751.04 194.92 L752.73 195.19 L754.42 195.44 L756.11 195.7 L757.8 195.94 L759.49 196.18 L761.18 196.42 L762.87 196.64 L764.56 196.87 L766.25 197.09 L767.94 197.31 L769.63 197.52 L771.32 197.73 L773.01 197.93 L774.69 198.13 L776.38 198.33 L778.07 198.52 L779.76 198.72 L781.45 198.91 L783.14 199.1 L784.83 199.29 L786.52 199.47 L788.21 199.65 L789.9 199.82 L791.59 199.98 L793.28 200.13 L794.97 200.27 L796.66 200.41 L798.35 200.55 L800.04 200.69 L801.73 200.82 L803.42 200.95 L805.11 201.08 L806.8 201.2 L808.49 201.32 L810.18 201.44 L811.87 201.55 L813.56 201.66 L815.25 201.76 L816.94 201.86 L818.63 201.95 L820.32 202.04 L822.01 202.12 L823.7 202.2" fill="none" stroke="#241f5e" stroke-width="2.2" stroke-dasharray="6.8 2.3 2 2.3" stroke-dashoffset="-1.5"/>
<path d="M475.3 188.9 L474.28 190.69 L473.26 192.48 L472.24 194.29 L471.22 196.11 L470.2 197.94" fill="none" stroke="#241f5e" stroke-width="1.8" stroke-dasharray="3 1.6 1.2 1.6"/>
<path d="M477 223.13 L478.24 221.05 L479.48 218.92 L480.72 216.75 L481.96 214.53 L483.21 212.28 L484.45 210 L485.69 207.7 L486.93 205.39 L488.17 203.07 L489.41 200.74 L490.65 198.42 L491.89 196.11 L493.14 193.82 L494.38 191.55 L495.62 189.31 L496.86 187.1 L498.1 184.94 L499.34 182.82 L500.58 180.72 L501.82 178.63 L503.07 176.57 L504.31 174.52 L505.55 172.48 L506.79 170.45 L508.03 168.43 L509.27 166.41 L510.51 164.4 L511.75 162.39 L512.99 160.38 L514.24 158.37 L515.48 156.36 L516.72 154.33 L517.96 152.28 L519.2 150.18 L520.44 148.12 L521.68 146.13 L522.92 144.28 L524.17 142.54 L525.41 140.89 L526.65 139.3 L527.89 137.74 L529.13 136.2 L530.37 134.66 L531.61 133.06 L532.85 131.43 L534.1 129.84 L535.34 128.34 L536.58 126.98 L537.82 125.82 L539.06 124.75 L540.3 123.74 L541.54 122.82 L542.78 122 L544.03 121.3 L545.27 120.75 L546.51 120.22 L547.75 119.72 L548.99 119.28 L550.23 118.95 L551.47 118.74 L552.71 118.7 L553.95 118.73 L555.2 118.8 L556.44 118.89 L557.68 119 L558.92 119.13 L560.16 119.27 L561.4 119.43 L562.64 119.63 L563.88 119.92 L565.13 120.26 L566.37 120.64 L567.61 121.06 L568.85 121.49 L570.09 121.92 L571.33 122.34 L572.57 122.75 L573.81 123.16 L575.06 123.58 L576.3 124 L577.54 124.44 L578.78 124.89 L580.02 125.36 L581.26 125.86 L582.5 126.37 L583.74 126.92 L584.98 127.49 L586.23 128.15 L587.47 128.9 L588.71 129.67 L589.95 130.4 L591.19 131.1 L592.43 131.79 L593.67 132.48 L594.91 133.16 L596.16 133.83 L597.4 134.51 L598.64 135.18 L599.88 135.85 L601.12 136.52 L602.36 137.19 L603.6 137.86 L604.84 138.54 L606.09 139.22 L607.33 139.9 L608.57 140.58 L609.81 141.26 L611.05 141.94 L612.29 142.62 L613.53 143.29 L614.77 143.97 L616.02 144.65 L617.26 145.33 L618.5 146.01 L619.74 146.7 L620.98 147.38 L622.22 148.07 L623.46 148.76 L624.7 149.45 L625.94 150.14 L627.19 150.83 L628.43 151.51 L629.67 152.19 L630.91 152.87 L632.15 153.53 L633.39 154.2 L634.63 154.86 L635.87 155.52 L637.12 156.18 L638.36 156.83 L639.6 157.48 L640.84 158.12 L642.08 158.77 L643.32 159.4 L644.56 160.03 L645.8 160.66 L647.05 161.28 L648.29 161.89 L649.53 162.5 L650.77 163.12 L652.01 163.74 L653.25 164.35 L654.49 164.96 L655.73 165.56 L656.97 166.15 L658.22 166.73 L659.46 167.3 L660.7 167.85 L661.94 168.39 L663.18 168.91 L664.42 169.41 L665.66 169.89 L666.9 170.36 L668.15 170.81 L669.39 171.26 L670.63 171.7 L671.87 172.12 L673.11 172.54 L674.35 172.96 L675.59 173.37 L676.83 173.77 L678.08 174.18 L679.32 174.58 L680.56 174.98 L681.8 175.38 L683.04 175.78 L684.28 176.17 L685.52 176.56 L686.76 176.94 L688.01 177.32 L689.25 177.7 L690.49 178.07 L691.73 178.44 L692.97 178.8 L694.21 179.15 L695.45 179.5 L696.69 179.85 L697.93 180.19 L699.18 180.52 L700.42 180.86 L701.66 181.18 L702.9 181.51 L704.14 181.83 L705.38 182.15 L706.62 182.46 L707.86 182.77 L709.11 183.08 L710.35 183.39 L711.59 183.69 L712.83 184 L714.07 184.3 L715.31 184.6 L716.55 184.89 L717.79 185.19 L719.04 185.49 L720.28 185.78 L721.52 186.07 L722.76 186.35 L724 186.6" fill="none" stroke="#2b2a9e" stroke-width="1.95"/>
<path d="M724 186.6 L725.69 186.93 L727.38 187.26 L729.07 187.59 L730.76 187.92 L732.45 188.24 L734.14 188.56 L735.83 188.88 L737.52 189.19 L739.21 189.5 L740.9 189.8 L742.59 190.1 L744.28 190.38 L745.97 190.66 L747.66 190.94 L749.35 191.2 L751.04 191.45 L752.73 191.69 L754.42 191.93 L756.11 192.15 L757.8 192.36 L759.49 192.55 L761.18 192.73 L762.87 192.9 L764.56 193.06 L766.25 193.21 L767.94 193.36 L769.63 193.52 L771.32 193.67 L773.01 193.82 L774.69 193.97 L776.38 194.11 L778.07 194.26 L779.76 194.4 L781.45 194.54 L783.14 194.68 L784.83 194.82 L786.52 194.95 L788.21 195.08 L789.9 195.2 L791.59 195.32 L793.28 195.44 L794.97 195.56 L796.66 195.66 L798.35 195.77 L800.04 195.87 L801.73 195.96 L803.42 196.05 L805.11 196.13 L806.8 196.21 L808.49 196.28 L810.18 196.35 L811.87 196.4 L813.56 196.45 L815.25 196.5 L816.94 196.53 L818.63 196.56 L820.32 196.58 L822.01 196.6 L823.7 196.6" fill="none" stroke="#2b2a9e" stroke-width="2.2" stroke-dasharray="6.8 2.3 2 2.3" stroke-dashoffset="-1.5"/>
<path d="M477 223.13 L475.64 225.34 L474.28 227.46 L472.92 229.52 L471.56 231.52 L470.2 233.5" fill="none" stroke="#2b2a9e" stroke-width="1.8" stroke-dasharray="3 1.6 1.2 1.6"/>
<path d="M475.5 217 L476.72 215.13 L477.93 213.23 L479.15 211.3 L480.36 209.35 L481.58 207.38 L482.8 205.39 L484.01 203.38 L485.23 201.36 L486.44 199.34 L487.66 197.3 L488.88 195.27 L490.09 193.23 L491.31 191.2 L492.53 189.18 L493.74 187.16 L494.96 185.16 L496.17 183.17 L497.39 181.17 L498.61 179.17 L499.82 177.17 L501.04 175.16 L502.25 173.15 L503.47 171.14 L504.69 169.14 L505.9 167.13 L507.12 165.12 L508.33 163.12 L509.55 161.13 L510.77 159.13 L511.98 157.15 L513.2 155.17 L514.41 153.21 L515.63 151.25 L516.85 149.31 L518.06 147.37 L519.28 145.43 L520.49 143.49 L521.71 141.53 L522.93 139.56 L524.14 137.61 L525.36 135.68 L526.58 133.8 L527.79 131.95 L529.01 130.06 L530.22 128.18 L531.44 126.36 L532.66 124.66 L533.87 123.11 L535.09 121.76 L536.3 120.48 L537.52 119.25 L538.74 118.07 L539.95 116.97 L541.17 115.96 L542.38 115.04 L543.6 114.23 L544.82 113.54 L546.03 112.94 L547.25 112.38 L548.46 111.9 L549.68 111.5 L550.9 111.22 L552.11 111.02 L553.33 110.83 L554.55 110.68 L555.76 110.57 L556.98 110.51 L558.19 110.53 L559.41 110.68 L560.63 110.92 L561.84 111.22 L563.06 111.51 L564.27 111.83 L565.49 112.2 L566.71 112.62 L567.92 113.05 L569.14 113.5 L570.35 113.98 L571.57 114.48 L572.79 115.01 L574 115.56 L575.22 116.12 L576.43 116.7 L577.65 117.27 L578.87 117.86 L580.08 118.46 L581.3 119.08 L582.52 119.72 L583.73 120.36 L584.95 121 L586.16 121.66 L587.38 122.31 L588.6 122.96 L589.81 123.61 L591.03 124.26 L592.24 124.92 L593.46 125.58 L594.68 126.24 L595.89 126.91 L597.11 127.58 L598.32 128.25 L599.54 128.92 L600.76 129.59 L601.97 130.26 L603.19 130.93 L604.4 131.6 L605.62 132.28 L606.84 132.95 L608.05 133.64 L609.27 134.32 L610.48 135.01 L611.7 135.69 L612.92 136.37 L614.13 137.05 L615.35 137.72 L616.57 138.39 L617.78 139.05 L619 139.69 L620.21 140.33 L621.43 140.96 L622.65 141.58 L623.86 142.19 L625.08 142.8 L626.29 143.41 L627.51 144.01 L628.73 144.61 L629.94 145.2 L631.16 145.8 L632.37 146.4 L633.59 147 L634.81 147.6 L636.02 148.21 L637.24 148.82 L638.45 149.43 L639.67 150.04 L640.89 150.65 L642.1 151.25 L643.32 151.85 L644.54 152.44 L645.75 153.02 L646.97 153.58 L648.18 154.13 L649.4 154.67 L650.62 155.21 L651.83 155.74 L653.05 156.27 L654.26 156.79 L655.48 157.3 L656.7 157.8 L657.91 158.29 L659.13 158.77 L660.34 159.23 L661.56 159.69 L662.78 160.12 L663.99 160.54 L665.21 160.96 L666.42 161.37 L667.64 161.77 L668.86 162.16 L670.07 162.54 L671.29 162.92 L672.51 163.29 L673.72 163.64 L674.94 163.99 L676.15 164.33 L677.37 164.65 L678.59 164.97 L679.8 165.28 L681.02 165.57 L682.23 165.85 L683.45 166.12 L684.67 166.38 L685.88 166.64 L687.1 166.88 L688.31 167.13 L689.53 167.37 L690.75 167.6 L691.96 167.84 L693.18 168.08 L694.39 168.32 L695.61 168.56 L696.83 168.8 L698.04 169.05 L699.26 169.29 L700.47 169.52 L701.69 169.76 L702.91 170 L704.12 170.24 L705.34 170.47 L706.56 170.7 L707.77 170.94 L708.99 171.17 L710.2 171.4 L711.42 171.63 L712.64 171.86 L713.85 172.09 L715.07 172.31 L716.28 172.54 L717.5 172.76" fill="none" stroke="#14b0d6" stroke-width="1.95"/>
<path d="M717.5 172.76 L719.3 173.1 L721.1 173.43 L722.9 173.77 L724.7 174.11 L726.5 174.45 L728.3 174.79 L730.1 175.13 L731.9 175.47 L733.7 175.81 L735.5 176.14 L737.3 176.47 L739.1 176.8 L740.9 177.11 L742.7 177.43 L744.5 177.73 L746.3 178.03 L748.1 178.32 L749.9 178.6 L751.7 178.87 L753.5 179.13 L755.3 179.38 L757.1 179.63 L758.9 179.87 L760.7 180.12 L762.5 180.36 L764.3 180.59 L766.1 180.83 L767.9 181.06 L769.7 181.28 L771.5 181.51 L773.3 181.73 L775.1 181.94 L776.9 182.15 L778.7 182.36 L780.5 182.56 L782.3 182.76 L784.1 182.95 L785.9 183.14 L787.7 183.32 L789.5 183.5 L791.3 183.67 L793.1 183.83 L794.9 183.99 L796.7 184.14 L798.5 184.28 L800.3 184.42 L802.1 184.56 L803.9 184.69 L805.7 184.81 L807.5 184.93 L809.3 185.05 L811.1 185.16 L812.9 185.27 L814.7 185.37 L816.5 185.47 L818.3 185.56 L820.1 185.65 L821.9 185.73 L823.7 185.81" fill="none" stroke="#14b0d6" stroke-width="2.2" stroke-dasharray="6.8 2.3 2 2.3" stroke-dashoffset="-1.5"/>
<path d="M475.5 217 L474.44 218.6 L473.38 220.16 L472.32 221.67 L471.26 223.14 L470.2 224.6" fill="none" stroke="#14b0d6" stroke-width="1.8" stroke-dasharray="3 1.6 1.2 1.6"/>
</g>
<line x1="644.4" y1="100.7" x2="723.9" y2="141.1" stroke="#b8402b" stroke-width="1.9"/>
<line x1="644.4" y1="109.2" x2="723.9" y2="137.7" stroke="#b8402b" stroke-width="1.9"/>
<line x1="732.2" y1="146" x2="732.2" y2="182" stroke="#c8604e" stroke-width="0.9"/>
<path d="M732.2 140 L736.9 148.4 L727.5 148.4 Z" fill="#b8402b"/>
<path d="M732.2 187.4 L736.9 179.4 L727.5 179.4 Z" fill="#b8402b"/>
<rect x="54.7" y="21.7" width="353.7" height="272.5" fill="none" stroke="#1c1c1c" stroke-width="1.35"/>
<path d="M80.18 294.2 v-2.8 M80.18 21.7 v2.8 M95.09 294.2 v-2.8 M95.09 21.7 v2.8 M105.66 294.2 v-2.8 M105.66 21.7 v2.8 M113.87 294.2 v-2.8 M113.87 21.7 v2.8 M120.57 294.2 v-2.8 M120.57 21.7 v2.8 M126.24 294.2 v-2.8 M126.24 21.7 v2.8 M131.15 294.2 v-2.8 M131.15 21.7 v2.8 M135.48 294.2 v-2.8 M135.48 21.7 v2.8 M139.35 294.2 v-5.4 M139.35 21.7 v5.4 M164.83 294.2 v-2.8 M164.83 21.7 v2.8 M179.74 294.2 v-2.8 M179.74 21.7 v2.8 M190.31 294.2 v-2.8 M190.31 21.7 v2.8 M198.52 294.2 v-2.8 M198.52 21.7 v2.8 M205.22 294.2 v-2.8 M205.22 21.7 v2.8 M210.89 294.2 v-2.8 M210.89 21.7 v2.8 M215.8 294.2 v-2.8 M215.8 21.7 v2.8 M220.13 294.2 v-2.8 M220.13 21.7 v2.8 M224 294.2 v-5.4 M224 21.7 v5.4 M249.48 294.2 v-2.8 M249.48 21.7 v2.8 M264.39 294.2 v-2.8 M264.39 21.7 v2.8 M274.96 294.2 v-2.8 M274.96 21.7 v2.8 M283.17 294.2 v-2.8 M283.17 21.7 v2.8 M289.87 294.2 v-2.8 M289.87 21.7 v2.8 M295.54 294.2 v-2.8 M295.54 21.7 v2.8 M300.45 294.2 v-2.8 M300.45 21.7 v2.8 M304.78 294.2 v-2.8 M304.78 21.7 v2.8 M308.65 294.2 v-5.4 M308.65 21.7 v5.4 M334.13 294.2 v-2.8 M334.13 21.7 v2.8 M349.04 294.2 v-2.8 M349.04 21.7 v2.8 M359.61 294.2 v-2.8 M359.61 21.7 v2.8 M367.82 294.2 v-2.8 M367.82 21.7 v2.8 M374.52 294.2 v-2.8 M374.52 21.7 v2.8 M380.19 294.2 v-2.8 M380.19 21.7 v2.8 M385.1 294.2 v-2.8 M385.1 21.7 v2.8 M389.43 294.2 v-2.8 M389.43 21.7 v2.8 M393.3 294.2 v-5.4 M393.3 21.7 v5.4 M54.7 273.29 h3.6 M408.4 273.29 h-3.6 M54.7 258.5 h3.6 M408.4 258.5 h-3.6 M54.7 247.03 h3.6 M408.4 247.03 h-3.6 M54.7 237.65 h3.6 M408.4 237.65 h-3.6 M54.7 229.72 h3.6 M408.4 229.72 h-3.6 M54.7 222.86 h3.6 M408.4 222.86 h-3.6 M54.7 216.8 h3.6 M408.4 216.8 h-3.6 M54.7 211.38 h7.1 M408.4 211.38 h-7.1 M54.7 175.74 h3.6 M408.4 175.74 h-3.6 M54.7 154.89 h3.6 M408.4 154.89 h-3.6 M54.7 140.1 h3.6 M408.4 140.1 h-3.6 M54.7 128.63 h3.6 M408.4 128.63 h-3.6 M54.7 119.25 h3.6 M408.4 119.25 h-3.6 M54.7 111.32 h3.6 M408.4 111.32 h-3.6 M54.7 104.46 h3.6 M408.4 104.46 h-3.6 M54.7 98.4 h3.6 M408.4 98.4 h-3.6 M54.7 92.98 h7.1 M408.4 92.98 h-7.1 M54.7 57.34 h3.6 M408.4 57.34 h-3.6 M54.7 36.49 h3.6 M408.4 36.49 h-3.6" stroke="#1c1c1c" stroke-width="1.2" fill="none"/>
<text x="44.4" y="311.5" font-size="13.5" textLength="12.8" lengthAdjust="spacingAndGlyphs">10</text>
<text x="57.1" y="305.2" font-size="8.1">11</text>
<text x="129.05" y="311.5" font-size="13.5" textLength="12.8" lengthAdjust="spacingAndGlyphs">10</text>
<text x="141.75" y="305.2" font-size="8.1">12</text>
<text x="213.7" y="311.5" font-size="13.5" textLength="12.8" lengthAdjust="spacingAndGlyphs">10</text>
<text x="226.4" y="305.2" font-size="8.1">13</text>
<text x="298.35" y="311.5" font-size="13.5" textLength="12.8" lengthAdjust="spacingAndGlyphs">10</text>
<text x="311.05" y="305.2" font-size="8.1">14</text>
<text x="383" y="311.5" font-size="13.5" textLength="12.8" lengthAdjust="spacingAndGlyphs">10</text>
<text x="395.7" y="305.2" font-size="8.1">15</text>
<text x="28.6" y="97.5" font-size="13.6" textLength="23.1" lengthAdjust="spacingAndGlyphs">0.10</text>
<text x="28.6" y="216.2" font-size="13.6" textLength="23.1" lengthAdjust="spacingAndGlyphs">0.01</text>
<text transform="translate(18 163.6) rotate(-90)" font-size="13">f</text>
<polygon points="18.5,153.1 19.22,155.01 21.26,155.1 19.66,156.38 20.2,158.35 18.5,157.22 16.8,158.35 17.34,156.38 15.74,155.1 17.78,155.01" fill="#000"/>
<text x="157.2" y="325" font-size="13">Halo Mass</text>
<text x="233.6" y="325" font-size="13">M</text>
<text x="244.6" y="328.1" font-size="8">500c</text>
<text x="273.6" y="325" font-size="13">[</text>
<text x="281.3" y="325" font-size="13">M</text>
<circle cx="296.1" cy="325.2" r="2.8" fill="none" stroke="#000" stroke-width="0.8"/>
<circle cx="296.1" cy="325.2" r="0.9" fill="#000"/>
<text x="301.6" y="325" font-size="13">]</text>
<text x="95.3" y="57.1" font-size="11.3">WMAP5</text>
<text x="143.7" y="57.1" font-size="12.6" textLength="8.6" lengthAdjust="spacingAndGlyphs">&#937;</text>
<text x="152.3" y="59.6" font-size="7">b</text>
<text x="155.6" y="57.1" font-size="11.3">/</text>
<text x="159" y="57.1" font-size="12.6" textLength="8.6" lengthAdjust="spacingAndGlyphs">&#937;</text>
<text x="167.9" y="59.6" font-size="7">m</text>
<rect x="470" y="21.7" width="353.7" height="272.5" fill="none" stroke="#1c1c1c" stroke-width="1.35"/>
<path d="M495.48 294.2 v-2.8 M495.48 21.7 v2.8 M510.39 294.2 v-2.8 M510.39 21.7 v2.8 M520.96 294.2 v-2.8 M520.96 21.7 v2.8 M529.17 294.2 v-2.8 M529.17 21.7 v2.8 M535.87 294.2 v-2.8 M535.87 21.7 v2.8 M541.54 294.2 v-2.8 M541.54 21.7 v2.8 M546.45 294.2 v-2.8 M546.45 21.7 v2.8 M550.78 294.2 v-2.8 M550.78 21.7 v2.8 M554.65 294.2 v-5.4 M554.65 21.7 v5.4 M580.13 294.2 v-2.8 M580.13 21.7 v2.8 M595.04 294.2 v-2.8 M595.04 21.7 v2.8 M605.61 294.2 v-2.8 M605.61 21.7 v2.8 M613.82 294.2 v-2.8 M613.82 21.7 v2.8 M620.52 294.2 v-2.8 M620.52 21.7 v2.8 M626.19 294.2 v-2.8 M626.19 21.7 v2.8 M631.1 294.2 v-2.8 M631.1 21.7 v2.8 M635.43 294.2 v-2.8 M635.43 21.7 v2.8 M639.3 294.2 v-5.4 M639.3 21.7 v5.4 M664.78 294.2 v-2.8 M664.78 21.7 v2.8 M679.69 294.2 v-2.8 M679.69 21.7 v2.8 M690.26 294.2 v-2.8 M690.26 21.7 v2.8 M698.47 294.2 v-2.8 M698.47 21.7 v2.8 M705.17 294.2 v-2.8 M705.17 21.7 v2.8 M710.84 294.2 v-2.8 M710.84 21.7 v2.8 M715.75 294.2 v-2.8 M715.75 21.7 v2.8 M720.08 294.2 v-2.8 M720.08 21.7 v2.8 M723.95 294.2 v-5.4 M723.95 21.7 v5.4 M749.43 294.2 v-2.8 M749.43 21.7 v2.8 M764.34 294.2 v-2.8 M764.34 21.7 v2.8 M774.91 294.2 v-2.8 M774.91 21.7 v2.8 M783.12 294.2 v-2.8 M783.12 21.7 v2.8 M789.82 294.2 v-2.8 M789.82 21.7 v2.8 M795.49 294.2 v-2.8 M795.49 21.7 v2.8 M800.4 294.2 v-2.8 M800.4 21.7 v2.8 M804.73 294.2 v-2.8 M804.73 21.7 v2.8 M808.6 294.2 v-5.4 M808.6 21.7 v5.4 M470 273.29 h3.6 M823.7 273.29 h-3.6 M470 258.5 h3.6 M823.7 258.5 h-3.6 M470 247.03 h3.6 M823.7 247.03 h-3.6 M470 237.65 h3.6 M823.7 237.65 h-3.6 M470 229.72 h3.6 M823.7 229.72 h-3.6 M470 222.86 h3.6 M823.7 222.86 h-3.6 M470 216.8 h3.6 M823.7 216.8 h-3.6 M470 211.38 h7.1 M823.7 211.38 h-7.1 M470 175.74 h3.6 M823.7 175.74 h-3.6 M470 154.89 h3.6 M823.7 154.89 h-3.6 M470 140.1 h3.6 M823.7 140.1 h-3.6 M470 128.63 h3.6 M823.7 128.63 h-3.6 M470 119.25 h3.6 M823.7 119.25 h-3.6 M470 111.32 h3.6 M823.7 111.32 h-3.6 M470 104.46 h3.6 M823.7 104.46 h-3.6 M470 98.4 h3.6 M823.7 98.4 h-3.6 M470 92.98 h7.1 M823.7 92.98 h-7.1 M470 57.34 h3.6 M823.7 57.34 h-3.6 M470 36.49 h3.6 M823.7 36.49 h-3.6" stroke="#1c1c1c" stroke-width="1.2" fill="none"/>
<text x="459.7" y="311.5" font-size="13.5" textLength="12.8" lengthAdjust="spacingAndGlyphs">10</text>
<text x="472.4" y="305.2" font-size="8.1">11</text>
<text x="544.35" y="311.5" font-size="13.5" textLength="12.8" lengthAdjust="spacingAndGlyphs">10</text>
<text x="557.05" y="305.2" font-size="8.1">12</text>
<text x="629" y="311.5" font-size="13.5" textLength="12.8" lengthAdjust="spacingAndGlyphs">10</text>
<text x="641.7" y="305.2" font-size="8.1">13</text>
<text x="713.65" y="311.5" font-size="13.5" textLength="12.8" lengthAdjust="spacingAndGlyphs">10</text>
<text x="726.35" y="305.2" font-size="8.1">14</text>
<text x="798.3" y="311.5" font-size="13.5" textLength="12.8" lengthAdjust="spacingAndGlyphs">10</text>
<text x="811" y="305.2" font-size="8.1">15</text>
<text x="443.9" y="97.5" font-size="13.6" textLength="23.1" lengthAdjust="spacingAndGlyphs">0.10</text>
<text x="443.9" y="216.2" font-size="13.6" textLength="23.1" lengthAdjust="spacingAndGlyphs">0.01</text>
<text transform="translate(433.3 163.6) rotate(-90)" font-size="13">f</text>
<polygon points="433.8,153.1 434.52,155.01 436.56,155.1 434.96,156.38 435.5,158.35 433.8,157.22 432.1,158.35 432.64,156.38 431.04,155.1 433.08,155.01" fill="#000"/>
<text x="572.9" y="325" font-size="13">Halo Mass</text>
<text x="649.2" y="325" font-size="13">M</text>
<text x="660.2" y="328.1" font-size="8">500c</text>
<text x="689.6" y="325" font-size="13">[</text>
<text x="697.6" y="325" font-size="13">M</text>
<circle cx="712.6" cy="325.4" r="2.6" fill="none" stroke="#000" stroke-width="0.8"/>
<text x="715.6" y="325" font-size="13">]</text>
<text x="510.6" y="57.1" font-size="11.3">WMAP5</text>
<text x="559" y="57.1" font-size="12.6" textLength="8.6" lengthAdjust="spacingAndGlyphs">&#937;</text>
<text x="567.6" y="59.6" font-size="7">b</text>
<text x="570.9" y="57.1" font-size="11.3">/</text>
<text x="574.3" y="57.1" font-size="12.6" textLength="8.6" lengthAdjust="spacingAndGlyphs">&#937;</text>
<text x="583.2" y="59.6" font-size="7">m</text>
<text x="398.6" y="87.8" font-size="13" text-anchor="end">Gonzalez et al. 2007</text>
<text x="337.7" y="106.5" font-size="11.8" textLength="59.3" lengthAdjust="spacingAndGlyphs">f<tspan font-size="7.6" dy="2.3">sat</tspan><tspan dy="-1.3" font-size="12.5">+</tspan><tspan dy="-1">f</tspan><tspan font-size="7.6" dy="2.3">BCG</tspan><tspan dy="-1.3" font-size="12.5">+</tspan><tspan dy="-1">f</tspan><tspan font-size="7.6" dy="2.3">ICL</tspan></text>
<text x="337.7" y="127.7" font-size="11.8" textLength="11.6" lengthAdjust="spacingAndGlyphs">f<tspan font-size="7.6" dy="2.3">sat</tspan></text>
<text transform="translate(154.6 116.6) rotate(29)" font-size="11.5">COSMOS</text>
<text transform="translate(151.6 288.2) rotate(-49)" font-size="11.5">Satellites</text>
<text transform="translate(275.0 256.0) rotate(42)" font-size="11.5">Centrals</text>
<text x="67" y="237.1" font-size="10.5">Syst. uncertainty:</text>
<rect x="67.4" y="242.5" width="15" height="16" fill="#bcbec1" stroke="#8f8f8f" stroke-width="0.7"/>
<clipPath id="legh"><rect x="67.4" y="264.3" width="15" height="14.4"/></clipPath>
<path d="M45.5 269.91 L88.38 245.16 M47.22 272.9 L90.1 248.14 M48.95 275.89 L91.83 251.13 M50.67 278.88 L93.55 254.12 M52.4 281.87 L95.28 257.11 M54.12 284.85 L97 260.09 M55.85 287.84 L98.73 263.08 M57.57 290.83 L100.45 266.07 M59.3 293.82 L102.18 269.06 M61.02 296.8 L103.9 272.05 M62.75 299.79 L105.63 275.03" clip-path="url(#legh)" stroke="#888" stroke-width="0.6" fill="none"/>
<rect x="67.4" y="264.3" width="15" height="14.4" fill="none" stroke="#8f8f8f" stroke-width="0.7"/>
<text x="85.6" y="253.8" font-size="10.4">Chabrier</text>
<text x="85.6" y="273.8" font-size="10.4">Salpeter</text>
<text x="690.3" y="98.5" font-size="13">f</text>
<polygon points="697.5,96.8 698.17,98.58 700.07,98.67 698.58,99.85 699.09,101.68 697.5,100.63 695.91,101.68 696.42,99.85 694.93,98.67 696.83,98.58" fill="#000"/>
<text x="700.6" y="98.5" font-size="13">, Giodini et al. 2009</text>
<text x="690.3" y="115.1" font-size="13">Eq 10 &amp; Eq 11</text>
<text x="739.6" y="166.3" font-size="13">~ 0.4 dex</text>
</svg>
</body></html>
